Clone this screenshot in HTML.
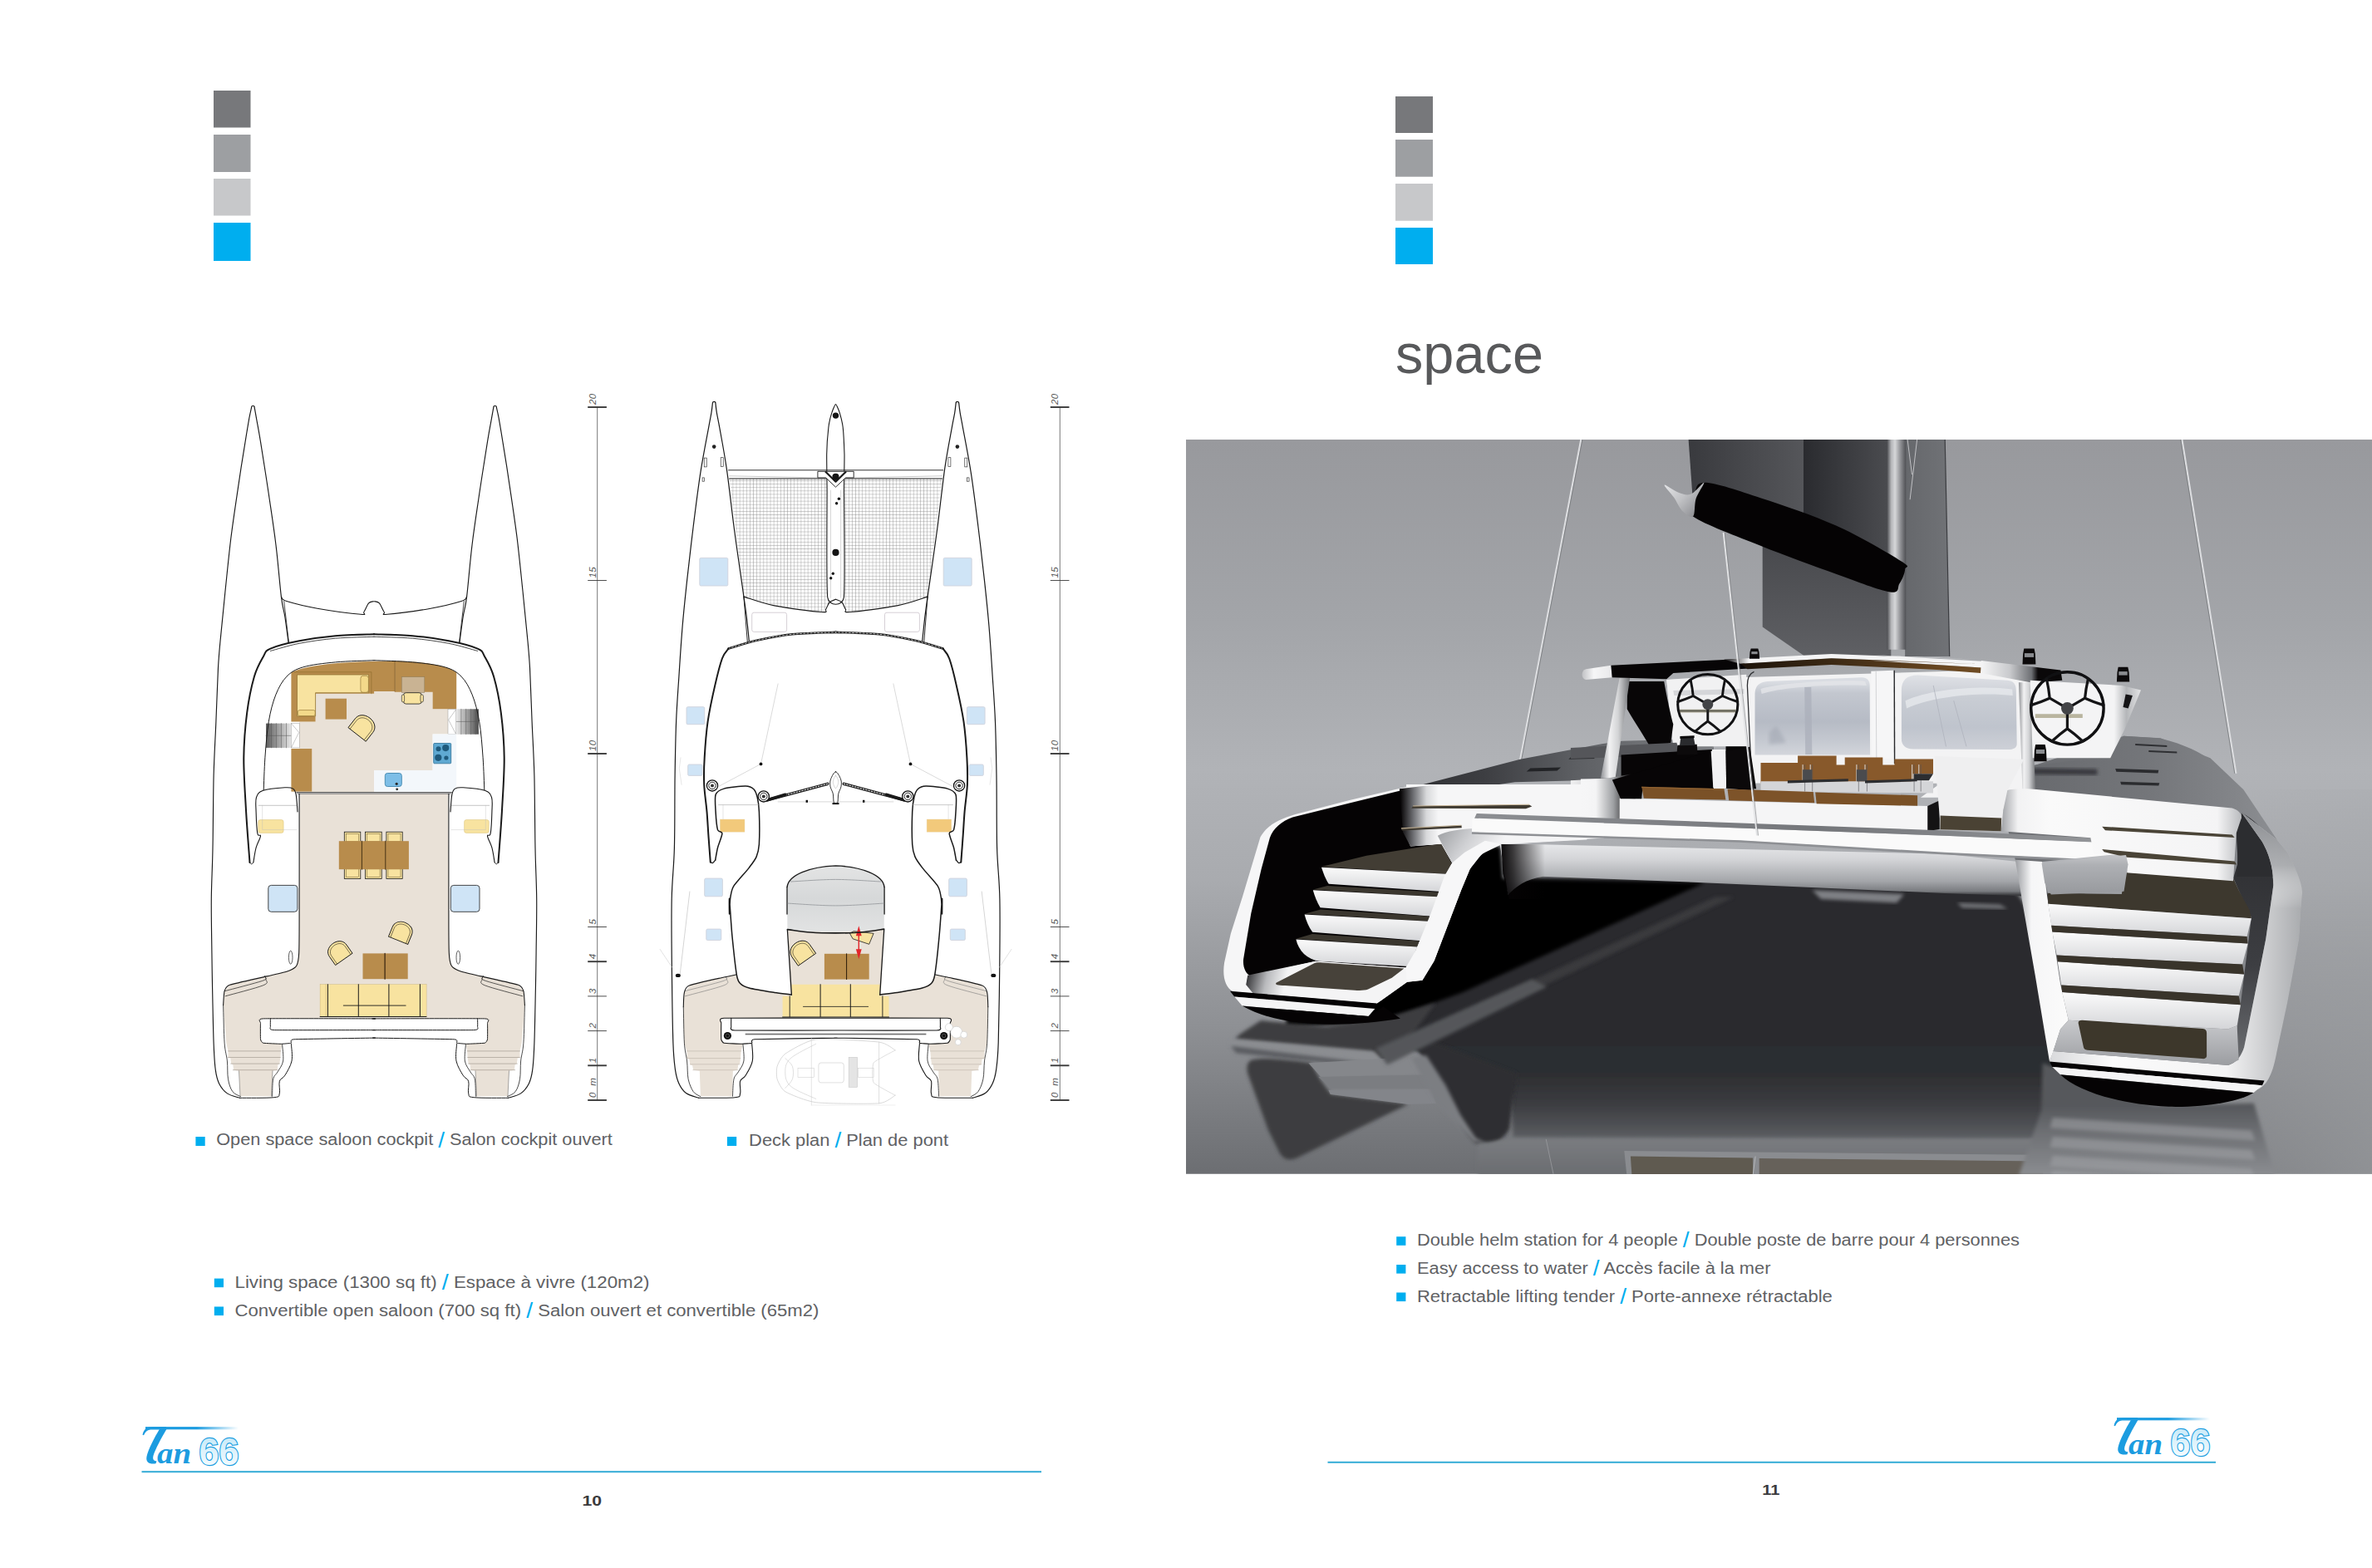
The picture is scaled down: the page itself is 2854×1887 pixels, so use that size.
<!DOCTYPE html>
<html lang="en"><head><meta charset="utf-8"><title>Tan 66 - space</title>
<style>
html,body{margin:0;padding:0;background:#fff;}
body{width:2854px;height:1887px;overflow:hidden;}
svg{display:block;}
text{font-family:"Liberation Sans",sans-serif;}
.t{font-size:19.6px;fill:#606164;}
.c{fill:#00aeef;}
.sl{font-size:25px;}
.rl{font-size:11.5px;font-style:italic;fill:#555;letter-spacing:0.3px;word-spacing:4px;}
</style></head><body>
<svg width="2854" height="1887" viewBox="0 0 2854 1887">
<defs>
<linearGradient id="g66" x1="0" y1="0" x2="0" y2="1"><stop offset="0" stop-color="#bfe6f7"/><stop offset="1" stop-color="#ffffff"/></linearGradient>
<linearGradient id="gTbar" x1="0" y1="0" x2="1" y2="0"><stop offset="0" stop-color="#1c9ce0"/><stop offset="0.55" stop-color="#1c9ce0"/><stop offset="1" stop-color="#1c9ce0" stop-opacity="0"/></linearGradient>
<g id="logo">
  <rect x="5" y="0.3" width="112" height="3.2" fill="url(#gTbar)"/>
  <path d="M1.5,10 C3,3 7,0.3 14,0.3 L30,0.3 L30,3.5 L13,3.5 C8,3.5 5,6 3,10.5 Z" fill="#1c9ce0"/>
  <path d="M22,3 L30.5,3 C24,14 17,27 14.5,35 C13.5,39 14.5,41.5 18.5,41.5 L17.5,44.5 C10,45.5 5,43.5 6.5,36 C8.5,27 16,13 22,3 Z" fill="#1c9ce0"/>
  <text x="19" y="44.6" style="font-family:'Liberation Serif',serif;font-style:italic;font-weight:bold" font-size="35" fill="#1c9ce0" textLength="41" lengthAdjust="spacingAndGlyphs">an</text>
  <text x="69.5" y="46.4" font-weight="bold" font-size="45.5" fill="url(#g66)" stroke="#1c9ce0" stroke-width="2.3" textLength="48" lengthAdjust="spacingAndGlyphs" paint-order="stroke">66</text>
</g>
<clipPath id="rclip"><rect x="1427" y="529" width="1427" height="884"/></clipPath>
<filter id="b2" x="-10%" y="-10%" width="120%" height="120%"><feGaussianBlur stdDeviation="2"/></filter>
<filter id="b4" x="-10%" y="-10%" width="120%" height="120%"><feGaussianBlur stdDeviation="4"/></filter>
<filter id="b8" x="-20%" y="-20%" width="140%" height="140%"><feGaussianBlur stdDeviation="8"/></filter>
<linearGradient id="bg" gradientUnits="userSpaceOnUse" x1="1427.0" y1="529.0" x2="1427.0" y2="1412.8"><stop offset="0" stop-color="#98999d"/><stop offset="0.25" stop-color="#a3a5a9"/><stop offset="0.45" stop-color="#b1b3b7"/><stop offset="0.6" stop-color="#a9abaf"/><stop offset="0.8" stop-color="#8e9094"/><stop offset="1" stop-color="#6c6e72"/></linearGradient>
<radialGradient id="bgr" gradientUnits="userSpaceOnUse" cx="2961.1" cy="1431.4" r="560"><stop offset="0" stop-color="#a6a8ab" stop-opacity="0.75"/><stop offset="0.55" stop-color="#a0a2a5" stop-opacity="0.4"/><stop offset="1" stop-color="#9a9c9f" stop-opacity="0"/></radialGradient>
<linearGradient id="sailA" gradientUnits="userSpaceOnUse" x1="2031.6" y1="529.0" x2="2170.0" y2="529.0"><stop offset="0" stop-color="#393a3e"/><stop offset="1" stop-color="#55565a"/></linearGradient>
<linearGradient id="sailB" gradientUnits="userSpaceOnUse" x1="2170.0" y1="529.0" x2="2270.5" y2="529.0"><stop offset="0" stop-color="#2a2b2f"/><stop offset="1" stop-color="#4a4b4f"/></linearGradient>
<linearGradient id="sailL" gradientUnits="userSpaceOnUse" x1="1427.0" y1="649.3" x2="1427.0" y2="790.7"><stop offset="0" stop-color="#47484c"/><stop offset="1" stop-color="#5f6064"/></linearGradient>
<linearGradient id="sailC" gradientUnits="userSpaceOnUse" x1="2293.3" y1="529.0" x2="2345.7" y2="529.0"><stop offset="0" stop-color="#66686c"/><stop offset="1" stop-color="#707276"/></linearGradient>
<linearGradient id="mast" gradientUnits="userSpaceOnUse" x1="2270.5" y1="529.0" x2="2293.3" y2="529.0"><stop offset="0" stop-color="#4c4d51"/><stop offset="0.22" stop-color="#b4b5b8"/><stop offset="0.42" stop-color="#d6d7d9"/><stop offset="0.72" stop-color="#8d8e92"/><stop offset="1" stop-color="#4f5054"/></linearGradient>
<linearGradient id="cap" gradientUnits="userSpaceOnUse" x1="2002.7" y1="583.1" x2="2040.6" y2="619.2"><stop offset="0" stop-color="#e4e5e7"/><stop offset="0.5" stop-color="#c2c3c6"/><stop offset="1" stop-color="#8f9094"/></linearGradient>
<linearGradient id="refl" gradientUnits="userSpaceOnUse" x1="1760.0" y1="1054.6" x2="1760.0" y2="1371.8"><stop offset="0" stop-color="#2a2b2e"/><stop offset="0.74" stop-color="#2c2d30"/><stop offset="0.86" stop-color="#3b3c40"/><stop offset="0.95" stop-color="#505256"/><stop offset="1" stop-color="#5f6165"/></linearGradient>
<linearGradient id="reflband" gradientUnits="userSpaceOnUse" x1="1760.0" y1="1368.8" x2="1760.0" y2="1413.1"><stop offset="0" stop-color="#7b7d81"/><stop offset="1" stop-color="#6b6d71"/></linearGradient>
<linearGradient id="ldeck" gradientUnits="userSpaceOnUse" x1="1677.9" y1="880.0" x2="1903.0" y2="880.0"><stop offset="0" stop-color="#2f3033"/><stop offset="0.35" stop-color="#4b4c50"/><stop offset="0.7" stop-color="#66686c"/><stop offset="1" stop-color="#7c7e82"/></linearGradient>
<linearGradient id="lwhite" gradientUnits="userSpaceOnUse" x1="1684.9" y1="940.0" x2="1729.8" y2="940.0"><stop offset="0" stop-color="#050304"/><stop offset="0.35" stop-color="#6e6f73"/><stop offset="0.7" stop-color="#d8d9db"/><stop offset="1" stop-color="#f4f4f5"/></linearGradient>
<linearGradient id="lfloor" gradientUnits="userSpaceOnUse" x1="1501.2" y1="1174.7" x2="1546.1" y2="1184.9"><stop offset="0" stop-color="#3a3a3d"/><stop offset="0.5" stop-color="#b9babd"/><stop offset="1" stop-color="#f4f4f5"/></linearGradient>
<linearGradient id="riser" gradientUnits="objectBoundingBox" x1="0.0" y1="0.0" x2="0.0" y2="1.0"><stop offset="0" stop-color="#fbfbfb"/><stop offset="1" stop-color="#d4d5d8"/></linearGradient>
<linearGradient id="lfair" gradientUnits="userSpaceOnUse" x1="1729.8" y1="1001.2" x2="1786.9" y2="1042.0"><stop offset="0" stop-color="#9fa1a4"/><stop offset="0.5" stop-color="#cfd0d3"/><stop offset="1" stop-color="#f4f4f5"/></linearGradient>
<linearGradient id="fillet" gradientUnits="userSpaceOnUse" x1="1740.0" y1="1011.3" x2="1740.0" y2="1077.1"><stop offset="0" stop-color="#ebecee"/><stop offset="0.35" stop-color="#d3d4d7"/><stop offset="0.75" stop-color="#a3a5a9"/><stop offset="0.93" stop-color="#7a7c80"/><stop offset="1" stop-color="#3a3b3e"/></linearGradient>
<linearGradient id="filletL" gradientUnits="userSpaceOnUse" x1="1804.5" y1="900.0" x2="1858.9" y2="900.0"><stop offset="0" stop-color="#050304" stop-opacity="1"/><stop offset="0.3" stop-color="#050304" stop-opacity="0.75"/><stop offset="1" stop-color="#050304" stop-opacity="0"/></linearGradient>
<linearGradient id="shoulderL" gradientUnits="userSpaceOnUse" x1="1901.9" y1="900.0" x2="1962.6" y2="900.0"><stop offset="0" stop-color="#f6f6f7"/><stop offset="0.3" stop-color="#f4f4f5"/><stop offset="0.65" stop-color="#9d9fa2"/><stop offset="1" stop-color="#0a0809"/></linearGradient>
<linearGradient id="beamtop" gradientUnits="objectBoundingBox" x1="0.0" y1="0.0" x2="1.0" y2="0.0"><stop offset="0" stop-color="#8c8e92"/><stop offset="0.5" stop-color="#74767a"/><stop offset="1" stop-color="#9a9c9f"/></linearGradient>
<linearGradient id="beamend" gradientUnits="userSpaceOnUse" x1="2569.7" y1="900.0" x2="2605.1" y2="900.0"><stop offset="0" stop-color="#fafafa" stop-opacity="0"/><stop offset="1" stop-color="#7d7f83" stop-opacity="1"/></linearGradient>
<linearGradient id="rtop" gradientUnits="userSpaceOnUse" x1="2500.0" y1="0.0" x2="2790.0" y2="0.0"><stop offset="0" stop-color="#6e7074"/><stop offset="0.6" stop-color="#808286"/><stop offset="1" stop-color="#96989c"/></linearGradient>
<linearGradient id="rdeck" gradientUnits="objectBoundingBox" x1="0.0" y1="0.0" x2="1.0" y2="0.0"><stop offset="0" stop-color="#66686c"/><stop offset="0.6" stop-color="#74767a"/><stop offset="1" stop-color="#84868a"/></linearGradient>
<linearGradient id="rinner" gradientUnits="objectBoundingBox" x1="0.0" y1="0.0" x2="0.0" y2="1.0"><stop offset="0" stop-color="#2a2b2e"/><stop offset="0.6" stop-color="#3d3e42"/><stop offset="1" stop-color="#6e7074"/></linearGradient>
<linearGradient id="rframeR" gradientUnits="objectBoundingBox" x1="0.0" y1="0.0" x2="1.0" y2="0.0"><stop offset="0" stop-color="#d9dadc"/><stop offset="0.25" stop-color="#fbfbfb"/><stop offset="0.7" stop-color="#f3f3f4"/><stop offset="1" stop-color="#a9abae"/></linearGradient>
<linearGradient id="rframeTop" gradientUnits="userSpaceOnUse" x1="2414.0" y1="978.3" x2="2414.0" y2="1093.2"><stop offset="0" stop-color="#8a8c90" stop-opacity="1"/><stop offset="0.55" stop-color="#a9abae" stop-opacity="0.85"/><stop offset="1" stop-color="#ffffff" stop-opacity="0"/></linearGradient>
<linearGradient id="rframeL" gradientUnits="objectBoundingBox" x1="0.0" y1="0.0" x2="1.0" y2="0.0"><stop offset="0" stop-color="#9c9ea2"/><stop offset="0.3" stop-color="#f6f6f7"/><stop offset="1" stop-color="#fbfbfb"/></linearGradient>
<linearGradient id="rbox" gradientUnits="objectBoundingBox" x1="0.0" y1="0.0" x2="0.0" y2="1.0"><stop offset="0" stop-color="#c6c7ca"/><stop offset="0.2" stop-color="#b0b2b6"/><stop offset="1" stop-color="#9c9ea2"/></linearGradient>
<linearGradient id="rfloor" gradientUnits="objectBoundingBox" x1="0.0" y1="0.0" x2="0.0" y2="1.0"><stop offset="0" stop-color="#c9cacd"/><stop offset="1" stop-color="#9b9da1"/></linearGradient>
<linearGradient id="rshoulder" gradientUnits="userSpaceOnUse" x1="2407.7" y1="900.0" x2="2697.0" y2="900.0"><stop offset="0" stop-color="#9fa1a5"/><stop offset="0.07" stop-color="#f2f2f3"/><stop offset="0.2" stop-color="#fafafa"/><stop offset="0.9" stop-color="#f4f4f5"/><stop offset="1" stop-color="#b9bbbe"/></linearGradient>
<linearGradient id="rbox2" gradientUnits="objectBoundingBox" x1="0.0" y1="0.0" x2="0.0" y2="1.0"><stop offset="0" stop-color="#c4c5c8"/><stop offset="0.25" stop-color="#aeb0b4"/><stop offset="1" stop-color="#97999d"/></linearGradient>
<linearGradient id="ldeck2" gradientUnits="userSpaceOnUse" x1="1675.8" y1="500.0" x2="2043.6" y2="500.0"><stop offset="0" stop-color="#2b2c2f"/><stop offset="0.3" stop-color="#3d3e42"/><stop offset="0.6" stop-color="#5d5f63"/><stop offset="1" stop-color="#7d7f83"/></linearGradient>
<linearGradient id="glassL" gradientUnits="userSpaceOnUse" x1="1900.0" y1="820.9" x2="1900.0" y2="908.0"><stop offset="0" stop-color="#d9dce2"/><stop offset="0.15" stop-color="#c3c7cf"/><stop offset="0.55" stop-color="#b6bbc5"/><stop offset="0.8" stop-color="#c4c8d0"/><stop offset="1" stop-color="#d2d5db"/></linearGradient>
<linearGradient id="glassR" gradientUnits="userSpaceOnUse" x1="2127.0" y1="812.6" x2="2127.0" y2="901.5"><stop offset="0" stop-color="#dfe1e6"/><stop offset="0.3" stop-color="#c9cdd4"/><stop offset="0.7" stop-color="#bfc4cd"/><stop offset="1" stop-color="#cdd0d7"/></linearGradient>
<linearGradient id="cside" gradientUnits="objectBoundingBox" x1="0.0" y1="0.0" x2="1.0" y2="0.0"><stop offset="0" stop-color="#f0f0f1"/><stop offset="0.55" stop-color="#b9babd"/><stop offset="1" stop-color="#070506"/></linearGradient>
<linearGradient id="roofL" gradientUnits="userSpaceOnUse" x1="1903.0" y1="740.0" x2="1939.5" y2="740.0"><stop offset="0" stop-color="#bfc0c3"/><stop offset="0.4" stop-color="#f6f6f7"/><stop offset="1" stop-color="#e9e9eb"/></linearGradient>
<linearGradient id="roofBlk" gradientUnits="userSpaceOnUse" x1="1938.4" y1="740.0" x2="2104.4" y2="740.0"><stop offset="0" stop-color="#070506"/><stop offset="0.82" stop-color="#070506"/><stop offset="1" stop-color="#070506" stop-opacity="0"/></linearGradient>
<linearGradient id="roofTop" gradientUnits="userSpaceOnUse" x1="2074.0" y1="740.0" x2="2104.4" y2="740.0"><stop offset="0" stop-color="#070506"/><stop offset="1" stop-color="#f4f4f5"/></linearGradient>
<linearGradient id="roofBr" gradientUnits="userSpaceOnUse" x1="2094.3" y1="740.0" x2="2507.1" y2="740.0"><stop offset="0" stop-color="#1c130a"/><stop offset="0.25" stop-color="#3a2814"/><stop offset="0.6" stop-color="#6a4822"/><stop offset="1" stop-color="#7d5629"/></linearGradient>
<linearGradient id="roofR" gradientUnits="userSpaceOnUse" x1="2384.4" y1="500.0" x2="2481.0" y2="500.0"><stop offset="0" stop-color="#f4f4f5"/><stop offset="0.35" stop-color="#c9cacd"/><stop offset="0.62" stop-color="#6e7074"/><stop offset="0.7" stop-color="#0a0809"/><stop offset="1" stop-color="#0a0809"/></linearGradient>
<linearGradient id="post" gradientUnits="objectBoundingBox" x1="0.0" y1="0.0" x2="1.0" y2="0.0"><stop offset="0" stop-color="#8f9195"/><stop offset="0.3" stop-color="#f2f2f3"/><stop offset="0.6" stop-color="#d2d3d5"/><stop offset="1" stop-color="#6f7174"/></linearGradient>
<linearGradient id="rcons" gradientUnits="userSpaceOnUse" x1="2442.7" y1="500.0" x2="2577.5" y2="500.0"><stop offset="0" stop-color="#f4f4f5"/><stop offset="0.75" stop-color="#f4f4f5"/><stop offset="0.86" stop-color="#b4b6b9"/><stop offset="1" stop-color="#e9e9ea"/></linearGradient>
<linearGradient id="reflRg" gradientUnits="userSpaceOnUse" x1="2140.0" y1="1330.5" x2="2140.0" y2="1413.0"><stop offset="0" stop-color="#56585c"/><stop offset="0.4" stop-color="#6e7074"/><stop offset="1" stop-color="#8a8c90"/></linearGradient>

</defs>
<rect x="0" y="0" width="2854" height="1887" fill="#ffffff"/>
<!-- colour squares left -->
<rect x="257" y="109" width="44.5" height="44.5" fill="#77787b"/>
<rect x="257" y="162" width="44.5" height="45" fill="#9d9fa2"/>
<rect x="257" y="215" width="44.5" height="44.5" fill="#c7c8ca"/>
<rect x="257" y="268" width="44.5" height="46" fill="#00aeef"/>
<!-- colour squares right -->
<rect x="1679" y="116" width="45" height="44" fill="#77787b"/>
<rect x="1679" y="168" width="45" height="44.7" fill="#9d9fa2"/>
<rect x="1679" y="221" width="45" height="44.7" fill="#c7c8ca"/>
<rect x="1679" y="274" width="45" height="44" fill="#00aeef"/>
<!-- footer lines -->
<rect x="170.5" y="1770.2" width="1082.5" height="2" fill="#35acd6"/>
<rect x="1597.5" y="1758.8" width="1068.5" height="2" fill="#35acd6"/>
<use href="#logo" x="170" y="1716.8"/>
<use href="#logo" x="2542" y="1705.8"/>
<g id="render" clip-path="url(#rclip)">
<polygon points="1427.0,529.0 2854.0,529.0 2854.0,1412.8 1427.0,1412.8" fill="url(#bg)" />
<polygon points="2209.1,950.1 2854.0,950.1 2854.0,1412.8 2209.1,1412.8" fill="url(#bgr)" />
<line x1="1902.3" y1="529.0" x2="1828.9" y2="915.2" stroke="#dcdde0" stroke-width="2.2" />
<line x1="1902.3" y1="529.0" x2="1828.9" y2="915.2" stroke="#6f7174" stroke-width="0.7" transform="translate(1.6,0)"/>
<line x1="2625.4" y1="529.0" x2="2690.4" y2="930.9" stroke="#dcdde0" stroke-width="2.2" />
<line x1="2625.4" y1="529.0" x2="2690.4" y2="930.9" stroke="#6f7174" stroke-width="0.7" transform="translate(-1.6,0)"/>
<polygon points="2031.6,529.0 2170.6,529.0 2170.6,619.2 2036.4,596.4" fill="url(#sailA)" />
<polygon points="2170.0,529.0 2271.1,529.0 2271.1,679.4 2170.0,619.2" fill="url(#sailB)" />
<polygon points="2120.7,643.3 2275.3,709.5 2275.3,791.3 2171.2,789.5 2120.7,754.6" fill="url(#sailL)" />
<polygon points="2292.1,529.0 2340.2,529.0 2345.7,790.1 2292.1,790.1" fill="url(#sailC)" />
<line x1="2340.2" y1="529.0" x2="2345.7" y2="790.1" stroke="#3c3d41" stroke-width="1.2" />
<polygon points="2270.5,529.0 2293.3,529.0 2293.3,781.7 2270.5,781.7" fill="url(#mast)" />
<line x1="2295.1" y1="529.0" x2="2300.5" y2="571.1" stroke="#c9cacd" stroke-width="0.9" />
<line x1="2306.6" y1="529.0" x2="2298.1" y2="601.2" stroke="#c9cacd" stroke-width="0.9" />
<path d="M2050.3,580.7 C2063.5,580.4 2092.4,590.8 2118.9,599.4 C2145.3,608.0 2181.0,619.8 2209.1,632.5 C2237.2,645.1 2273.5,666.4 2287.3,675.2 C2301.1,684.0 2292.4,680.9 2292.1,685.4 C2291.8,689.9 2288.5,697.8 2285.5,702.3 C2282.5,706.8 2286.8,714.4 2274.1,712.5 C2261.3,710.6 2235.0,700.1 2209.1,690.8 C2183.2,681.6 2147.5,668.7 2118.9,657.1 C2090.2,645.6 2050.3,631.0 2037.0,621.6 C2023.8,612.3 2037.2,608.0 2039.4,601.2 C2041.6,594.4 2037.0,581.0 2050.3,580.7 Z" fill="#050304" />
<path d="M2002.7,583.7 C2003.6,582.7 2014.3,591.0 2019.6,592.8 C2024.9,594.6 2029.5,596.6 2034.6,594.6 C2039.7,592.6 2049.3,579.8 2050.3,580.7 C2051.3,581.6 2042.9,593.2 2040.6,600.0 C2038.4,606.8 2039.8,619.2 2037.0,621.6 C2034.2,624.1 2027.6,618.2 2023.8,614.4 C2020.0,610.6 2017.7,603.9 2014.2,598.8 C2010.7,593.7 2001.8,584.7 2002.7,583.7 Z" fill="url(#cap)" />
<polygon points="1838.4,922.9 1876.5,922.9 1873.5,926.6 1835.4,926.6" fill="#26272a" />
<polygon points="1675.8,953.6 1829.1,913.7 1927.1,895.3 1951.6,891.7 2025.2,889.8 2062.0,898.4 2062.0,935.2 1939.4,938.2 1822.9,941.3 1737.1,953.6" fill="url(#ldeck2)" />
<polygon points="1841.3,924.5 1878.1,923.5 1873.5,927.5 1836.7,928.4" fill="#222326" />
<polygon points="1890.3,910.7 1921.0,910.1 1917.9,913.1 1887.3,913.7" fill="#2a2b2e" />
<polygon points="2555.2,885.8 2599.3,888.2 2659.4,912.2 2699.4,950.2 2739.5,1010.3 2759.5,1055.0 2765.3,1056.4 2770.1,1073.7 2766.4,1130.1 2752.3,1206.0 2739.3,1266.7 2730.6,1299.3 2713.3,1312.3 2479.1,1292.8 2466.0,1277.6 2448.7,1173.5 2424.8,1034.7 2410.3,975.1 2420.3,930.1" fill="url(#rtop)" />
<path d="M 2415.0,952.2 L 2425.1,923.2 L 2535.2,911.2 L 2555.2,885.8 L 2599.3,888.6 C 2629.3,896.2 2649.3,906.2 2659.4,915.2 C 2675.4,928.2 2689.4,946.2 2697.4,978.3 L 2669.4,972.3 L 2579.3,962.3 Z" fill="url(#rdeck)" />
<polygon points="2569.2,895.0 2607.3,897.0 2607.3,899.0 2569.2,897.0" fill="#2e2f32" />
<polygon points="2585.3,903.0 2619.3,904.6 2619.3,906.6 2585.3,905.0" fill="#2e2f32" />
<polygon points="2545.2,925.0 2597.3,926.8 2596.5,930.6 2546.4,928.8" fill="#2b2c2f" />
<polygon points="2551.2,940.8 2598.3,942.2 2597.3,945.6 2552.2,944.2" fill="#2b2c2f" />
<polygon points="2424.1,924.6 2523.2,925.8 2523.6,932.6 2422.1,931.4" fill="#35363a" filter="url(#b2)"/>
<polygon points="2005.2,817.9 2380.0,806.8 2442.7,818.7 2445.7,912.2 2445.7,959.7 2310.9,959.7 2335.1,942.4 2102.4,942.4 2100.3,897.8 2013.3,897.8" fill="#f3f3f4" />
<path d="M 2111.5,835.1 C 2111.5,825.0 2117.5,820.5 2126.6,819.9 L 2240.0,815.3 C 2246.4,815.3 2249.7,818.9 2249.7,825.0 L 2250.1,908.4 L 2111.5,908.4 Z" fill="url(#glassL)" />
<polygon points="2171.2,827.0 2179.3,827.0 2180.3,908.0 2172.2,908.0" fill="#a9aeb9" opacity="0.7"/>
<path d="M 2118.5,829.0 C 2142.8,820.9 2223.8,817.9 2244.0,819.9 L 2246.0,825.0 C 2203.5,823.0 2142.8,827.0 2119.6,835.1 Z" fill="#e3e5e9" opacity="0.8"/>
<polygon points="2128.7,881.7 2136.8,873.6 2142.8,881.7 2148.9,893.8 2128.7,895.8" fill="#a2a7b2" opacity="0.6" filter="url(#b2)"/>
<polygon points="2251.3,807.8 2278.8,806.8 2278.8,913.0 2252.1,913.0" fill="#f6f6f7" />
<line x1="2279.2" y1="806.8" x2="2279.6" y2="919.1" stroke="#26272a" stroke-width="1.4" />
<line x1="2257.2" y1="807.8" x2="2257.8" y2="912.0" stroke="#c9cacd" stroke-width="0.8" />
<path d="M 2287.9,831.0 C 2287.9,818.7 2294.0,812.6 2307.8,812.6 L 2415.1,818.7 C 2422.7,819.3 2425.8,823.3 2425.8,831.0 L 2426.7,895.3 C 2426.7,899.9 2422.7,902.1 2416.6,902.1 L 2301.7,901.5 C 2292.5,900.9 2287.9,896.9 2287.9,889.2 Z" fill="url(#glassR)" />
<path d="M 2292.5,843.2 C 2326.2,827.9 2387.5,824.9 2421.2,829.5 L 2421.8,837.1 C 2387.5,832.5 2326.2,837.1 2294.0,852.4 Z" fill="#e6e8ec" opacity="0.8"/>
<line x1="2326.2" y1="824.9" x2="2341.5" y2="898.4" stroke="#aeb3bc" stroke-width="0.8" />
<line x1="2350.7" y1="843.2" x2="2366.0" y2="898.4" stroke="#aeb3bc" stroke-width="0.8" />
<path d="M 2110.5,808.4 C 2104.4,810.8 2102.4,816.9 2102.4,825.0 L 2110.5,1003.1" fill="none" stroke="#2d2e31" stroke-width="1.3"/>
<polygon points="2005.2,817.9 2101.3,811.8 2099.3,898.2 2013.3,898.2 2010.3,869.5" fill="#f1f1f2" />
<polygon points="2013.3,831.1 2098.3,829.0 2098.3,835.1 2014.3,837.1" fill="#d5d6d9" />
<path d="M 1957.7,819.9 L 2002.2,819.9 C 2005.2,837.1 2010.3,861.4 2013.3,871.5 L 2010.3,893.8 L 1987.0,901.9 C 1980.9,889.7 1966.8,869.5 1957.7,853.3 Z" fill="#080607" />
<polygon points="1889.9,899.9 2017.4,893.8 2021.4,909.0 1889.9,913.0" fill="#55565a" />
<polygon points="1950.6,908.4 2059.9,901.9 2061.9,950.5 1976.9,950.5 1950.6,942.4" fill="#070506" />
<polygon points="1889.9,939.3 1926.3,937.3 1964.8,937.3 1974.9,950.5 1948.6,962.6 1889.9,960.6" fill="url(#cside)" />
<polygon points="2059.9,901.9 2076.5,901.9 2076.5,948.8 2061.9,948.8" fill="#f4f4f5" />
<polygon points="2076.5,898.2 2102.4,898.2 2110.5,951.5 2076.5,948.8" fill="#080607" />
<polygon points="2018.4,896.8 2041.7,895.8 2042.7,908.0 2017.4,908.4" fill="#0c0a0b" />
<polygon points="2022.4,886.7 2037.6,886.1 2039.6,896.8 2021.0,897.2" fill="#2a2b2e" />
<polygon points="2021.4,886.1 2038.6,885.3 2038.6,888.1 2021.4,888.9" fill="#0c0a0b" />
<polygon points="2118.5,918.1 2163.1,918.1 2163.1,909.4 2209.6,909.4 2209.6,920.5 2219.7,920.5 2219.7,911.4 2265.3,911.4 2265.3,920.5 2279.4,920.5 2279.4,913.4 2326.0,913.4 2326.0,931.2 2301.7,931.2 2301.7,942.4 2118.5,942.4" fill="#88592b" />
<polygon points="2118.5,940.3 2326.0,940.3 2326.0,954.5 2118.5,952.5" fill="#d4d5d8" />
<line x1="2169.1" y1="920.1" x2="2169.1" y2="952.5" stroke="#d9d9db" stroke-width="1.0" />
<line x1="2171.6" y1="920.1" x2="2171.6" y2="952.5" stroke="#55565a" stroke-width="0.6" />
<line x1="2178.2" y1="920.1" x2="2178.2" y2="952.5" stroke="#d9d9db" stroke-width="1.0" />
<line x1="2180.7" y1="920.1" x2="2180.7" y2="952.5" stroke="#55565a" stroke-width="0.6" />
<line x1="2233.9" y1="920.1" x2="2233.9" y2="952.5" stroke="#d9d9db" stroke-width="1.0" />
<line x1="2236.3" y1="920.1" x2="2236.3" y2="952.5" stroke="#55565a" stroke-width="0.6" />
<line x1="2244.0" y1="920.1" x2="2244.0" y2="952.5" stroke="#d9d9db" stroke-width="1.0" />
<line x1="2246.4" y1="920.1" x2="2246.4" y2="952.5" stroke="#55565a" stroke-width="0.6" />
<line x1="2300.7" y1="920.1" x2="2300.7" y2="952.5" stroke="#d9d9db" stroke-width="1.0" />
<line x1="2303.1" y1="920.1" x2="2303.1" y2="952.5" stroke="#55565a" stroke-width="0.6" />
<line x1="2308.8" y1="920.1" x2="2308.8" y2="952.5" stroke="#d9d9db" stroke-width="1.0" />
<line x1="2311.2" y1="920.1" x2="2311.2" y2="952.5" stroke="#55565a" stroke-width="0.6" />
<polygon points="2169.1,926.2 2180.3,926.2 2180.3,940.3 2169.1,940.3" fill="#4a4b4e" />
<polygon points="2233.9,926.2 2246.0,926.2 2246.0,940.3 2233.9,940.3" fill="#4a4b4e" />
<polygon points="2302.7,931.2 2326.0,931.2 2320.9,939.3 2302.7,939.3" fill="#2c2d30" />
<polygon points="2150.9,939.3 2223.8,937.3 2223.8,940.3 2150.9,942.4" fill="#2c2d30" />
<polygon points="2244.0,939.3 2306.7,937.3 2306.7,940.3 2244.0,942.4" fill="#2c2d30" />
<polygon points="2326.0,914.0 2380.0,916.1 2380.0,972.7 2335.1,972.7 2335.1,942.4 2326.0,942.4" fill="#f1f1f2" />
<path d="M 1908.1,805.2 L 1938.4,800.7 L 1939.7,815.3 L 1908.1,817.9 C 1902.0,816.9 1902.0,806.8 1908.1,805.2 Z" fill="url(#roofL)" />
<polygon points="1938.4,800.7 2094.3,793.0 2104.4,804.4 2013.3,810.0 2005.2,817.3 1939.7,815.3" fill="#070506" />
<polygon points="2074.0,793.8 2203.5,786.9 2380.0,793.8 2249.6,788.1 2384.4,795.7 2384.4,803.4 2249.6,794.8 2380.0,799.1 2203.5,792.2 2094.3,798.7" fill="url(#roofTop)" />
<polygon points="2094.3,798.7 2203.5,792.2 2380.0,799.1 2249.6,794.8 2383.8,803.4 2382.9,810.1 2249.6,799.7 2380.0,808.4 2203.5,799.9 2102.4,805.2" fill="url(#roofBr)" />
<polygon points="2383.8,795.1 2479.4,806.5 2481.3,818.7 2445.7,821.8 2383.2,810.1" fill="url(#roofR)" />
<polygon points="1948.6,815.9 1961.1,815.9 1943.5,936.7 1925.9,936.7" fill="url(#post)" />
<polygon points="2428.9,821.2 2442.7,821.2 2449.4,952.0 2433.5,952.0" fill="url(#post)" />
<polygon points="2019.4,853.7 2088.6,853.7 2088.6,857.4 2019.4,857.4" fill="#a9a48f" />
<circle cx="2054.8" cy="847.7" r="36.1" fill="none" stroke="#101012" stroke-width="3.0"/>
<path d="M2054.8,850.9 L2054.8,868.0 M2054.8,868.0 Q2062.1,873.1 2070.1,880.4 M2054.8,868.0 Q2047.5,873.1 2039.5,880.4" stroke="#141416" stroke-width="2.9" fill="none" stroke-linecap="round"/>
<path d="M2054.8,868.0 L2070.1,880.4 L2039.5,880.4 Z" fill="#1a1a1c" opacity="0.0"/>
<path d="M2057.6,846.0 L2072.4,837.5 M2072.4,837.5 Q2073.2,828.6 2075.5,818.1 M2072.4,837.5 Q2080.5,841.3 2090.8,844.5" stroke="#141416" stroke-width="2.9" fill="none" stroke-linecap="round"/>
<path d="M2072.4,837.5 L2075.5,818.1 L2090.8,844.5 Z" fill="#1a1a1c" opacity="0.0"/>
<path d="M2052.0,846.0 L2037.2,837.5 M2037.2,837.5 Q2029.1,841.3 2018.8,844.5 M2037.2,837.5 Q2036.4,828.6 2034.1,818.1" stroke="#141416" stroke-width="2.9" fill="none" stroke-linecap="round"/>
<path d="M2037.2,837.5 L2018.8,844.5 L2034.1,818.1 Z" fill="#1a1a1c" opacity="0.0"/>
<circle cx="2054.8" cy="847.7" r="6.5" fill="#434447"/>
<polygon points="2019.4,854.5 2088.6,854.5 2088.6,856.6 2019.4,856.6" fill="#2a2b2e" opacity="0.55"/>
<polygon points="2442.7,818.7 2553.0,824.9 2576.0,830.4 2556.1,878.5 2539.2,912.2 2445.7,912.2" fill="url(#rcons)" />
<polygon points="2557.6,835.6 2565.9,837.1 2560.7,852.4 2554.5,850.9" fill="#151416" />
<polygon points="2448.8,859.2 2505.8,859.2 2505.8,864.1 2448.8,864.1" fill="#b9b59f" />
<circle cx="2487.4" cy="852.4" r="43.7" fill="none" stroke="#101012" stroke-width="3.4"/>
<path d="M2487.4,856.1 L2487.4,876.9 M2487.4,876.9 Q2496.3,883.2 2505.9,892.0 M2487.4,876.9 Q2478.5,883.2 2468.9,892.0" stroke="#141416" stroke-width="3.2" fill="none" stroke-linecap="round"/>
<path d="M2487.4,876.9 L2505.9,892.0 L2468.9,892.0 Z" fill="#1a1a1c" opacity="0.0"/>
<path d="M2490.6,850.6 L2508.6,840.2 M2508.6,840.2 Q2509.6,829.4 2512.5,816.7 M2508.6,840.2 Q2518.5,844.7 2530.9,848.6" stroke="#141416" stroke-width="3.2" fill="none" stroke-linecap="round"/>
<path d="M2508.6,840.2 L2512.5,816.7 L2530.9,848.6 Z" fill="#1a1a1c" opacity="0.0"/>
<path d="M2484.2,850.6 L2466.2,840.2 M2466.2,840.2 Q2456.3,844.7 2443.9,848.6 M2466.2,840.2 Q2465.2,829.4 2462.4,816.7" stroke="#141416" stroke-width="3.2" fill="none" stroke-linecap="round"/>
<path d="M2466.2,840.2 L2443.9,848.6 L2462.4,816.7 Z" fill="#1a1a1c" opacity="0.0"/>
<circle cx="2487.4" cy="852.4" r="7.4" fill="#434447"/>
<polygon points="2435.3,780.4 2447.6,780.4 2448.8,787.1 2449.4,799.4 2433.5,799.4 2434.1,787.1" fill="#0c0a0b" />
<polygon points="2435.9,786.1 2447.0,786.1 2447.0,790.9 2435.9,790.9" fill="#8a8c90" />
<polygon points="2548.7,802.8 2560.3,802.8 2561.6,809.0 2562.2,820.6 2546.9,820.6 2547.5,809.0" fill="#0c0a0b" />
<polygon points="2549.3,808.1 2559.7,808.1 2559.7,812.6 2549.3,812.6" fill="#8a8c90" />
<polygon points="2449.1,896.0 2460.7,896.0 2462.0,903.0 2462.6,916.2 2447.3,916.2 2447.9,903.0" fill="#0c0a0b" />
<polygon points="2449.7,902.0 2460.1,902.0 2460.1,907.1 2449.7,907.1" fill="#8a8c90" />
<polygon points="2106.7,780.4 2115.3,780.4 2116.5,784.7 2117.1,792.7 2104.9,792.7 2105.5,784.7" fill="#0c0a0b" />
<polygon points="2107.3,784.1 2114.7,784.1 2114.7,787.2 2107.3,787.2" fill="#8a8c90" />
<path d="M 1632.5,1212.5 L 1681.1,1170.0 L 1790.4,1060.7 L 1860.2,1055.2 L 2412.6,1065.3 C 2430.8,1072.9 2439.9,1091.1 2443.0,1115.3 L 2468.8,1273.2 L 2494.6,1303.5 L 2485.5,1333.9 L 2473.3,1370.9 L 1820.7,1368.8 L 1817.7,1315.7 L 1709.9,1267.1 L 1659.8,1242.8 L 1562.7,1194.3 Z" fill="url(#refl)" filter="url(#b2)"/>
<path d="M 1694.7,1242.8 L 1825.3,1291.4 L 1816.2,1358.2 C 1808.6,1373.4 1793.4,1379.4 1776.7,1375.8 C 1766.1,1370.3 1747.9,1333.9 1694.7,1242.8 Z" fill="#2d2e31" filter="url(#b2)"/>
<polygon points="1816.2,1370.9 2473.3,1370.9 2455.1,1414.3 1778.2,1414.3 1778.2,1376.4" fill="url(#reflband)" filter="url(#b2)"/>
<polygon points="1954.3,1384.9 2480.0,1390.1 2480.0,1414.3 1957.3,1414.3" fill="#8a8c90" />
<polygon points="1961.9,1391.6 2109.1,1393.4 2109.1,1414.3 1963.4,1414.3" fill="#5f5a50" />
<polygon points="2116.7,1394.0 2458.2,1397.6 2458.2,1414.3 2116.7,1414.3" fill="#66615a" />
<line x1="1860.2" y1="1370.9" x2="1869.3" y2="1414.3" stroke="#9a9c9f" stroke-width="0.8" />
<line x1="2112.1" y1="1391.6" x2="2109.1" y2="1414.3" stroke="#b4b6b9" stroke-width="1.0" />
<path d="M 1747.9,1018.2 L 1805.5,1018.2 L 1808.6,1057.7 L 2051.4,1062.2 L 1760.0,1194.3 L 1659.8,1230.7 L 1547.5,1236.8 L 1547.5,1091.1 Z" fill="#050304" filter="url(#b2)"/>
<path d="M 1723.6,1234.3 L 2063.5,1079.5 L 2086.3,1079.5 L 1731.2,1245.3 Z" fill="#3c3d40" filter="url(#b2)" opacity="0.85"/>
<polygon points="2180.4,1071.3 2291.2,1075.9 2282.1,1086.5 2191.0,1082.0" fill="#8e9094" filter="url(#b2)" opacity="0.85"/>
<polygon points="2354.9,1086.5 2406.6,1088.6 2415.7,1094.1 2361.0,1092.6" fill="#85878b" filter="url(#b2)" opacity="0.8"/>
<polygon points="1493.1,1243.7 1517.2,1228.1 1595.3,1235.3 1667.5,1225.1 1727.6,1207.1 1691.5,1255.1 1664.5,1277.7 1652.4,1265.7 1485.6,1250.6" fill="#3c3d40" filter="url(#b2)"/>
<polygon points="1482.6,1250.9 1652.4,1266.0 1664.5,1276.8 1658.5,1280.7 1479.6,1258.8" fill="#8b8d91" filter="url(#b2)"/>
<polygon points="1481.1,1258.8 1658.5,1281.0 1655.4,1285.2 1487.1,1267.2" fill="#5a5c60" filter="url(#b2)"/>
<path d="M 1505.8,1275.6 C 1517.2,1271.7 1553.2,1275.6 1577.3,1279.2 L 1589.3,1300.2 L 1601.3,1316.8 L 1694.5,1328.8 L 1559.3,1394.0 C 1550.2,1397.0 1544.2,1394.9 1539.7,1387.4 L 1526.2,1360.4 L 1501.5,1292.7 C 1499.1,1283.7 1500.6,1278.6 1505.8,1275.6 Z" fill="#3d3e41" filter="url(#b2)"/>
<polygon points="1574.3,1279.2 1697.5,1272.0 1712.6,1291.8 1589.3,1296.0" fill="#85878b" />
<polygon points="1586.3,1296.0 1714.1,1293.6 1721.0,1309.9 1601.3,1309.9" fill="#7b7d81" />
<polygon points="1598.3,1311.7 1721.6,1311.1 1728.2,1327.9 1694.5,1329.1 1600.7,1317.1" fill="#83858a" />
<polygon points="1697.5,1272.0 1716.2,1270.2 1739.6,1306.2 1757.6,1342.3 1775.7,1369.4 1789.2,1376.0 1772.7,1373.9 1727.6,1325.8" fill="#7c7e82" filter="url(#b2)"/>
<polygon points="1655.4,1261.8 1843.3,1178.5 1861.4,1187.5 1669.0,1281.6" fill="#54565a" filter="url(#b2)"/>
<polygon points="2457.6,1279.3 2456.1,1336.5 2429.0,1414.8 2737.5,1414.8 2711.9,1327.5 2591.5,1330.5" fill="url(#reflRg)" filter="url(#b2)"/>
<polygon points="2469.6,1345.0 2708.9,1360.6 2713.4,1372.6 2466.6,1357.6" fill="#a0a2a6" opacity="0.55" filter="url(#b2)"/>
<polygon points="2469.6,1368.1 2708.9,1383.8 2713.4,1395.8 2466.6,1380.8" fill="#a0a2a6" opacity="0.55" filter="url(#b2)"/>
<polygon points="2469.6,1390.7 2708.9,1406.4 2713.4,1418.4 2466.6,1403.4" fill="#a0a2a6" opacity="0.55" filter="url(#b2)"/>
<polygon points="2469.6,1408.8 2708.9,1424.4 2713.4,1436.5 2466.6,1421.4" fill="#a0a2a6" opacity="0.55" filter="url(#b2)"/>
<path d="M 1692.0,947.1 L 1623.7,962.9 L 1558.4,980.0 C 1538.0,985.9 1523.7,994.1 1516.5,1007.3 L 1507.3,1038.0 L 1495.1,1078.8 L 1480.8,1123.7 L 1473.1,1158.4 C 1470.6,1174.7 1473.7,1188.0 1483.9,1193.5 L 1656.3,1207.8 L 1662.9,1203.3 L 1693.1,1181.8 L 1711.4,1179.8 L 1725.7,1156.3 L 1742.0,1113.5 L 1758.4,1070.6 L 1768.6,1046.1 C 1774.7,1031.8 1791.0,1020.6 1807.3,1015.9 L 1929.8,1008.4 L 1929.8,944.1 L 1692.0,944.1 Z" fill="#f6f6f7" />
<path d="M 1690.0,950.2 L 1623.7,966.5 L 1555.3,983.5 C 1542.0,988.0 1531.8,997.1 1527.8,1008.4 L 1517.6,1046.1 L 1505.3,1099.2 L 1496.1,1154.3 C 1495.1,1164.5 1499.2,1172.7 1505.3,1174.7 L 1582.9,1156.7 L 1691.4,1164.5 L 1703.3,1144.1 L 1721.6,1099.2 L 1738.0,1054.3 L 1747.1,1038.4 L 1733.9,1015.9 L 1697.1,1018.6 L 1690.0,1001.2 Z" fill="#050304" />
<polygon points="1683.9,949.2 1729.8,944.1 1729.8,1015.9 1697.1,1018.6 1688.0,1001.2" fill="url(#lwhite)" />
<polygon points="1501.2,1173.7 1582.9,1156.7 1691.4,1164.5 1693.1,1181.8 1662.9,1203.3 1656.3,1207.8 1507.3,1195.1 1499.2,1184.9" fill="url(#lfloor)" />
<path d="M 1535.9,1182.4 L 1580.8,1159.4 C 1582.9,1158.0 1586.9,1158.0 1591.0,1158.4 L 1689.4,1165.5 L 1674.7,1176.7 L 1646.1,1190.6 C 1642.0,1192.2 1635.9,1192.2 1629.8,1191.8 L 1546.1,1186.1 C 1538.0,1185.7 1532.9,1184.9 1535.9,1182.4 Z" fill="#47423a" />
<polygon points="1590.0,1043.1 1644.1,1029.8 1729.8,1015.9 1734.3,1015.9 1746.7,1039.0 1740.0,1051.8" fill="#423d34" />
<path d="M 1590.0,1043.7 L 1740.0,1051.8 L 1733.9,1073.1 L 1598.8,1063.7 C 1595.1,1058.4 1592.0,1050.2 1590.0,1043.7 Z" fill="url(#riser)" />
<polygon points="1579.8,1070.6 1597.1,1065.9 1731.4,1073.7 1729.8,1079.2" fill="#3b372f" />
<path d="M 1579.8,1071.2 L 1729.8,1079.2 L 1722.7,1102.7 L 1588.6,1092.2 C 1584.9,1085.9 1581.8,1078.8 1579.8,1071.2 Z" fill="url(#riser)" />
<polygon points="1569.6,1099.8 1589.0,1094.5 1720.0,1102.7 1718.6,1108.8" fill="#3b372f" />
<path d="M 1569.6,1100.4 L 1718.6,1108.8 L 1710.4,1132.2 L 1579.2,1121.8 C 1574.7,1115.5 1571.6,1108.4 1569.6,1100.4 Z" fill="url(#riser)" />
<polygon points="1559.4,1129.8 1578.8,1124.1 1707.8,1132.4 1705.3,1139.4" fill="#3b372f" />
<path d="M 1559.4,1130.4 L 1705.3,1139.4 L 1695.1,1162.9 L 1586.9,1156.7 C 1572.7,1154.3 1562.4,1144.1 1559.4,1130.4 Z" fill="url(#riser)" />
<polygon points="1691.4,1164.5 1703.3,1144.1 1721.6,1099.2 1738.0,1054.3 1747.1,1038.4 1762.4,1025.7 1786.9,1011.8 1827.8,1011.8 1807.3,1015.9 1782.9,1027.8 1768.6,1046.1 1758.4,1070.6 1742.0,1113.5 1725.7,1156.3 1711.4,1179.8 1693.1,1181.8" fill="#f7f7f8" />
<polygon points="1480.0,1192.7 1656.7,1207.6 1654.3,1213.9 1485.3,1199.6" fill="#050304" />
<polygon points="1485.3,1199.6 1654.3,1213.9 1646.5,1222.9 1494.7,1210.6" fill="#f4f4f5" />
<path d="M 1494.7,1210.6 L 1646.5,1222.9 L 1664.5,1211.4 L 1684.9,1225.7 C 1623.7,1235.9 1542.0,1238.0 1494.7,1210.6 Z" fill="#050304" />
<polygon points="1700.2,970.0 1840.0,968.4 1843.3,970.6 1835.9,973.3 1698.2,972.7" fill="#3f3a31" />
<polygon points="1700.2,969.4 1840.0,967.8 1840.4,968.8 1700.2,970.6" fill="#c9b79a" />
<polygon points="1685.9,996.9 1758.4,993.3 1758.8,996.3 1686.9,999.4" fill="#3f3a31" />
<polygon points="1685.9,996.3 1758.4,992.7 1758.4,993.7 1685.9,997.6" fill="#b9a98e" />
<path d="M 1729.8,1005.7 C 1740.0,1000.2 1758.4,997.6 1774.7,997.1 L 1774.7,1001.2 L 1909.4,1006.9 L 1909.4,1010.4 L 1807.3,1015.9 L 1786.9,1011.8 L 1762.4,1025.7 L 1747.1,1038.4 L 1735.9,1017.6 Z" fill="url(#lfair)" />
<path d="M 1804.5,1015.1 L 2340.0,1027.7 L 2473.6,1041.7 L 2501.4,1045.4 L 2506.4,1064.4 L 2514.0,1102.4 L 2496.3,1102.4 L 2486.2,1092.2 C 2473.6,1082.1 2448.3,1078.3 2397.7,1077.1 L 2340.0,1075.0 L 2043.5,1061.9 L 1856.4,1054.8 C 1836.1,1058.1 1823.5,1066.9 1814.6,1077.1 Z" fill="url(#fillet)" />
<polygon points="1806.3,1015.9 1858.9,1015.9 1858.9,1082.1 1815.9,1082.1 1808.3,1051.8" fill="url(#filletL)" />
<polygon points="1901.9,937.4 1932.2,936.9 1967.7,930.4 1967.7,963.2 1950.0,963.2 1948.7,987.3 1901.9,985.5" fill="url(#shoulderL)" />
<polygon points="1948.7,960.7 2319.3,970.1 2319.3,999.9 1948.7,987.3" fill="#f5f5f6" />
<polygon points="2319.3,970.1 2333.7,963.2 2333.7,998.1 2319.3,999.9" fill="#141314" />
<polygon points="1939.8,938.4 2059.2,903.8 2061.3,948.1 1976.5,946.8 1975.2,961.2 1950.0,961.2" fill="#070506" />
<polygon points="2058.7,903.8 2076.4,903.8 2077.2,948.6 2061.3,948.1" fill="#f2f2f3" />
<polygon points="2076.4,903.8 2105.5,898.7 2113.1,949.3 2077.2,948.6" fill="#0b090a" />
<polygon points="1975.2,946.8 2074.4,949.3 2076.4,962.5 1977.8,960.7" fill="#7a5127" />
<polygon points="2078.5,949.6 2181.7,953.1 2183.2,966.3 2080.2,963.2" fill="#7d5329" />
<polygon points="2184.2,953.6 2307.1,957.2 2307.1,969.8 2185.7,967.3" fill="#7a5127" />
<polygon points="1975.2,946.8 2074.4,949.3 2074.4,950.6 1975.2,948.1" fill="#8f6232" />
<polygon points="1771.6,984.7 2340.0,1005.7 2597.5,1016.4 2605.1,1034.1 2595.0,1038.6 2340.0,1026.5 2094.1,1011.8 1770.9,1001.7" fill="#fafafa" />
<polygon points="1776.7,978.9 2340.0,999.4 2598.8,1012.6 2597.5,1016.9 2340.0,1005.7 1774.1,984.7" fill="url(#beamtop)" />
<polygon points="1770.9,1001.2 2094.1,1011.3 2340.0,1025.7 2596.2,1038.1 2595.0,1040.6 2340.0,1028.5 2094.1,1013.8 1770.9,1003.7" fill="#8e9094" />
<polygon points="2569.7,1015.1 2598.8,1016.4 2605.1,1034.1 2595.0,1038.6 2569.7,1037.4" fill="url(#beamend)" />
<polygon points="2693.7,982.7 2721.9,1013.0 2732.8,1032.5 2735.4,1065.1 2726.3,1130.1 2713.3,1195.2 2700.2,1260.2 2693.7,1275.4 2680.7,1281.9 2691.6,1238.5 2695.9,1208.2 2708.9,1104.1 2693.7,1071.6 2687.2,1056.4 2692.7,1037.9 2689.4,982.7" fill="url(#rinner)" />
<path d="M 2697.4,978.3 C 2719.4,990.3 2735.4,1010.3 2745.5,1055.0 L 2691.4,1055.0 L 2693.4,1004.3 Z" fill="#2c2d30" />
<path d="M 2697.4,978.3 L 2739.5,1010.4 L 2752.3,1026.0 C 2761.0,1043.4 2769.6,1060.7 2770.1,1073.7 L 2766.4,1130.1 L 2752.3,1206.0 L 2739.3,1266.7 C 2734.9,1290.6 2728.4,1307.9 2713.3,1312.3 L 2479.1,1292.8 L 2466.0,1277.6 L 2470.4,1265.0 L 2680.7,1281.9 C 2689.4,1279.7 2695.9,1273.2 2700.2,1260.2 L 2713.3,1195.2 L 2726.3,1130.1 L 2735.4,1065.1 C 2734.9,1047.7 2732.8,1032.5 2721.9,1013.0 Z" fill="url(#rframeR)" />
<path d="M 2697.4,978.3 L 2739.5,1010.4 L 2752.3,1026.0 C 2761.0,1043.4 2769.6,1060.7 2770.1,1073.7 L 2768.8,1093.2 L 2734.5,1093.2 L 2735.4,1065.1 C 2734.9,1047.7 2732.8,1032.5 2721.9,1013.0 Z" fill="url(#rframeTop)" />
<polygon points="2424.8,1034.7 2457.4,1036.9 2464.3,1086.7 2479.1,1184.3 2488.8,1227.7 2479.1,1238.5 2470.4,1265.6 2466.0,1277.6 2459.5,1238.5 2448.7,1173.5 2433.5,1086.7" fill="url(#rframeL)" />
<polygon points="2463.9,1074.8 2552.8,1075.9 2557.1,1049.9 2687.2,1057.5 2693.7,1071.6 2706.8,1095.4 2708.9,1105.2 2464.3,1087.8" fill="#3d382e" />
<polygon points="2457.4,1036.9 2557.1,1027.1 2559.3,1032.5 2557.1,1049.9 2552.8,1075.9 2463.9,1074.8" fill="url(#rbox)" />
<polygon points="2464.3,1087.8 2708.9,1105.2 2703.5,1126.9 2468.2,1113.8" fill="url(#riser)" />
<polygon points="2469.3,1121.4 2704.6,1135.5 2698.1,1160.5 2474.7,1149.6" fill="url(#riser)" />
<polygon points="2475.8,1157.2 2700.2,1172.4 2693.7,1198.4 2480.1,1185.4" fill="url(#riser)" />
<polygon points="2481.2,1194.1 2695.9,1209.3 2691.6,1234.2 2680.7,1238.5 2488.8,1227.7" fill="url(#riser)" />
<polygon points="2468.2,1113.8 2703.5,1126.9 2704.6,1135.5 2469.3,1121.4" fill="#39342b" />
<polygon points="2474.7,1149.6 2698.1,1160.5 2700.2,1172.4 2475.8,1157.2" fill="#39342b" />
<polygon points="2480.1,1185.4 2693.7,1198.4 2695.9,1209.3 2481.2,1194.1" fill="#39342b" />
<polygon points="2488.8,1227.7 2680.7,1238.5 2691.6,1234.2 2693.7,1275.4 2680.7,1281.9 2470.4,1265.0 2479.1,1238.5" fill="url(#rfloor)" />
<path d="M 2505.1,1227.7 L 2650.4,1238.1 C 2653.6,1238.5 2655.1,1240.3 2655.1,1242.9 L 2655.1,1271.1 C 2654.7,1273.7 2652.5,1274.5 2649.3,1274.1 L 2511.6,1263.7 C 2508.5,1263.3 2507.2,1262.0 2506.8,1259.4 L 2500.7,1231.6 C 2500.3,1229.0 2502.0,1227.7 2505.1,1227.7 Z" fill="#3d372b" />
<polygon points="2466.0,1277.6 2724.5,1300.6 2721.9,1306.2 2469.3,1284.1" fill="#050304" />
<polygon points="2469.3,1284.1 2721.9,1306.2 2711.5,1314.9 2479.1,1293.2" fill="#f4f4f5" />
<path d="M 2479.1,1293.2 L 2711.5,1314.9 C 2695.9,1325.3 2652.5,1332.9 2609.2,1331.8 C 2555.0,1329.6 2500.7,1314.4 2479.1,1293.2 Z" fill="#050304" />
<path d="M 2414.0,951.3 C 2422.8,948.8 2440.3,948.8 2450.3,950.1 L 2685.7,972.6 C 2693.2,975.1 2697.0,978.9 2697.0,983.9 L 2690.7,1002.7 L 2687.0,1060.3 L 2559.3,1050.3 L 2558.0,1029.0 L 2519.2,1027.7 L 2515.4,1008.2 L 2407.7,1000.2 L 2410.3,975.1 Z" fill="url(#rshoulder)" />
<polygon points="2529.2,994.7 2685.7,1004.4 2688.7,1007.9 2533.0,999.2" fill="#4a4437" />
<polygon points="2529.2,1022.0 2688.7,1036.5 2691.2,1040.5 2559.3,1031.7 2531.7,1025.2" fill="#4a4437" />
<polygon points="2456.6,1039.0 2558.0,1029.0 2560.5,1040.2 2555.5,1072.8 2467.8,1076.5 2460.3,1062.8" fill="url(#rbox2)" />
<polygon points="2327.6,910.0 2435.3,913.8 2415.3,951.3 2410.3,975.1 2407.7,1000.2 2335.1,998.2" fill="#efeff0" />
<polygon points="2334.6,981.4 2408.2,984.4 2407.7,1000.2 2334.6,998.2" fill="#4a4234" />
<line x1="2073.7" y1="640.9" x2="2114.0" y2="1005.5" stroke="#e2e3e5" stroke-width="2.0" />
<line x1="2073.7" y1="640.9" x2="2114.0" y2="1005.5" stroke="#77797c" stroke-width="0.6" transform="translate(1.5,0)"/>
</g>
<g id="planL">
<polygon points="450.1,955.2 361.2,955.2 360.1,1100.0 359.7,1146.7 356.9,1161.9 347.1,1168.4 321.1,1174.9 276.6,1185.3 270.1,1192.7 269.0,1207.5 269.7,1224.8 272.3,1255.2 274.5,1264.9 274.5,1272.5 277.3,1273.6 278.1,1280.1 280.3,1281.2 281.2,1287.7 287.5,1288.8 289.0,1319.2 326.5,1319.2 328.0,1288.8 333.7,1287.7 334.5,1281.2 336.3,1280.1 337.3,1273.6 337.8,1264.9 339.5,1256.3 316.7,1255.2 313.5,1250.8 313.5,1231.3 316.7,1225.9 450.1,1225.9 449.9,1225.9 583.3,1225.9 586.5,1231.3 586.5,1250.8 583.3,1255.2 560.5,1256.3 562.2,1264.9 562.7,1273.6 563.7,1280.1 565.5,1281.2 566.3,1287.7 572.0,1288.8 573.5,1319.2 611.0,1319.2 612.5,1288.8 618.8,1287.7 619.7,1281.2 621.9,1280.1 622.7,1273.6 625.5,1272.5 625.5,1264.9 627.7,1255.2 630.3,1224.8 631.0,1207.5 629.9,1192.7 623.4,1185.3 578.9,1174.9 552.9,1168.4 543.1,1161.9 540.3,1146.7 539.9,1100.0 538.8,955.2 449.9,955.2" fill="#e9e1d7" stroke="none" stroke-width="0" />
<polygon points="360.1,868.4 379.6,868.4 379.6,834.8 450.1,834.8 450.1,832.0 520.6,832.0 520.6,853.3 539.0,853.3 539.0,883.6 520.6,883.6 520.6,927.0 450.1,927.0 450.1,953.0 375.3,953.0 375.3,901.0 360.1,901.0" fill="#e9e1d7" stroke="none" stroke-width="0" />
<path d="M350.4,868.4 C350.4,858.5 348.0,819.8 350.4,808.8 C352.7,797.8 355.6,804.4 364.5,802.5 C373.3,800.6 389.4,798.5 403.5,797.3 C417.6,796.1 437.1,795.6 449.0,795.3 C461.0,795.1 470.7,795.9 475.1,796.0" fill="none" stroke="none" stroke-width="1.0" stroke-linejoin="round" stroke-linecap="round" />
<path d="M350.4,868.4 L350.4,809.4 C368.8,800.1 414.3,795.3 475.1,795.8 L475.1,832.0 L450.1,832.0 L450.1,834.8 L379.6,834.8 L379.6,868.4 L350.4,868.4 Z" fill="#b88c4c"/>
<path d="M475.1,795.8 C507.6,795.8 538.0,800.1 549.2,809.4 L549.2,853.3 L520.6,853.3 L520.6,832.7 L475.1,832.7 L475.1,795.8 Z" fill="#b88c4c"/>
<polyline points="475.1,796.0 475.1,832.2" fill="none" stroke="#7a5a2a" stroke-width="0.7" stroke-linejoin="round" stroke-linecap="round" />
<rect x="350.4" y="901.0" width="24.9" height="51.6" rx="0.0" fill="#b88c4c" stroke="none" stroke-width="0" />
<rect x="391.6" y="840.7" width="25.4" height="24.9" rx="0.0" fill="#b88c4c" stroke="none" stroke-width="0" />
<polygon points="357.5,812.0 443.6,812.0 443.6,833.7 379.6,833.7 379.6,861.9 357.5,861.9" fill="#f8e3a0" stroke="#8a6a2a" stroke-width="0.7" />
<rect x="433.9" y="813.3" width="9.5" height="20.0" rx="3.0" fill="#f3d98a" stroke="#8a6a2a" stroke-width="0.6" />
<rect x="358.4" y="854.6" width="20.8" height="6.9" rx="2.0" fill="#f3d98a" stroke="#8a6a2a" stroke-width="0.6" />
<polyline points="353.6,808.8 446.9,808.8 446.9,834.8" fill="none" stroke="#8a6a2a" stroke-width="0.6" stroke-linejoin="round" stroke-linecap="round" />
<rect x="483.3" y="814.7" width="27.5" height="18.7" rx="0.0" fill="#c9b393" stroke="#8a7a5a" stroke-width="0.5" />
<rect x="485.5" y="833.7" width="21.7" height="13.4" rx="3.0" fill="#f8e3a0" stroke="#1a1a1a" stroke-width="0.8" />
<rect x="483.3" y="835.9" width="3.3" height="9.1" rx="2.0" fill="#f8e3a0" stroke="#1a1a1a" stroke-width="0.6" />
<rect x="505.9" y="835.9" width="3.5" height="9.1" rx="2.0" fill="#f8e3a0" stroke="#1a1a1a" stroke-width="0.6" />
<g transform="translate(437.1,874.3) rotate(38.0)"><path d="M-13.5,12.2 L13.5,12.2 L13.5,-1.4 C13.5,-16.7 -13.5,-16.7 -13.5,-1.4 Z" fill="#f8e3a0" stroke="#1a1a1a" stroke-width="0.9"/><path d="M10.8,12.2 L10.8,-0.5 C10.8,-13.0 -10.8,-13.0 -10.8,-0.5 L-10.8,12.2" fill="none" stroke="#3a3322" stroke-width="0.6"/></g>
<defs><linearGradient id="stL" x1="0" y1="0" x2="1" y2="0"><stop offset="0" stop-color="#5e5e5e"/><stop offset="1" stop-color="#e6e6e6"/></linearGradient><linearGradient id="stR" x1="0" y1="0" x2="1" y2="0"><stop offset="0" stop-color="#ededed"/><stop offset="1" stop-color="#4e4e4e"/></linearGradient></defs>
<rect x="320.0" y="870.6" width="30.4" height="29.3" rx="0.0" fill="url(#stL)" stroke="none" stroke-width="0" />
<polyline points="326.5,870.6 326.5,899.9" fill="none" stroke="#555" stroke-width="0.5" stroke-linejoin="round" stroke-linecap="round" />
<polyline points="332.4,870.6 332.4,899.9" fill="none" stroke="#555" stroke-width="0.5" stroke-linejoin="round" stroke-linecap="round" />
<polyline points="338.4,870.6 338.4,899.9" fill="none" stroke="#555" stroke-width="0.5" stroke-linejoin="round" stroke-linecap="round" />
<polyline points="344.5,870.6 344.5,899.9" fill="none" stroke="#555" stroke-width="0.5" stroke-linejoin="round" stroke-linecap="round" />
<polyline points="320.0,885.3 350.4,885.3" fill="none" stroke="#555" stroke-width="0.5" stroke-linejoin="round" stroke-linecap="round" />
<rect x="350.4" y="870.6" width="9.8" height="29.3" rx="0.0" fill="#ffffff" stroke="#888" stroke-width="0.4" />
<polyline points="350.8,871.0 359.7,881.4 350.8,899.2" fill="none" stroke="#777" stroke-width="0.4" stroke-linejoin="round" stroke-linecap="round" />
<rect x="548.8" y="853.3" width="27.1" height="30.4" rx="0.0" fill="url(#stR)" stroke="none" stroke-width="0" />
<polyline points="554.9,853.3 554.9,883.6" fill="none" stroke="#555" stroke-width="0.5" stroke-linejoin="round" stroke-linecap="round" />
<polyline points="560.7,853.3 560.7,883.6" fill="none" stroke="#555" stroke-width="0.5" stroke-linejoin="round" stroke-linecap="round" />
<polyline points="566.6,853.3 566.6,883.6" fill="none" stroke="#555" stroke-width="0.5" stroke-linejoin="round" stroke-linecap="round" />
<polyline points="572.2,853.3 572.2,883.6" fill="none" stroke="#555" stroke-width="0.5" stroke-linejoin="round" stroke-linecap="round" />
<polyline points="548.8,868.4 575.9,868.4" fill="none" stroke="#555" stroke-width="0.5" stroke-linejoin="round" stroke-linecap="round" />
<rect x="539.0" y="853.7" width="9.8" height="29.9" rx="0.0" fill="#ffffff" stroke="#888" stroke-width="0.4" />
<polyline points="548.4,854.1 539.7,866.3 548.4,883.2" fill="none" stroke="#777" stroke-width="0.4" stroke-linejoin="round" stroke-linecap="round" />
<polygon points="520.6,883.6 549.2,883.6 549.2,952.6 450.1,952.6 450.1,927.0 520.6,927.0" fill="#f3f7fb" stroke="none" stroke-width="0" />
<rect x="521.7" y="894.5" width="21.0" height="24.3" rx="1.0" fill="#5fa9d2" stroke="#2c6d94" stroke-width="0.8" />
<circle cx="527.5" cy="901.2" r="3.0" fill="#1f5a7c"/>
<circle cx="536.2" cy="900.1" r="4.1" fill="#1f5a7c"/>
<circle cx="527.3" cy="911.8" r="4.1" fill="#1f5a7c"/>
<circle cx="536.9" cy="912.0" r="2.6" fill="#1f5a7c"/>
<rect x="463.3" y="930.5" width="20.0" height="16.0" rx="3.0" fill="#7dbee7" stroke="#3f86ae" stroke-width="0.9" />
<circle cx="477.2" cy="943.3" r="1.6" fill="#2a2a2a"/>
<circle cx="477.7" cy="949.8" r="1.4" fill="#2a2a2a"/>
<rect x="322.8" y="1065.4" width="35.1" height="31.9" rx="3.5" fill="#cfe4f6" stroke="#1a1a1a" stroke-width="0.8" />
<rect x="542.3" y="1065.4" width="34.7" height="31.9" rx="3.5" fill="#cfe4f6" stroke="#1a1a1a" stroke-width="0.8" />
<rect x="310.7" y="986.6" width="30.4" height="15.8" rx="2.5" fill="#f8e3a0" stroke="#d8c078" stroke-width="0.5" />
<rect x="558.6" y="986.6" width="29.7" height="15.8" rx="2.5" fill="#f8e3a0" stroke="#d8c078" stroke-width="0.5" />
<rect x="414.3" y="1001.2" width="19.5" height="12.1" rx="0.0" fill="#f8e3a0" stroke="#1a1a1a" stroke-width="0.8" />
<rect x="416.5" y="1003.3" width="15.2" height="9.5" rx="0.0" fill="#f8e3a0" stroke="#6a5a2a" stroke-width="0.5" />
<rect x="414.3" y="1045.4" width="19.5" height="12.1" rx="0.0" fill="#f8e3a0" stroke="#1a1a1a" stroke-width="0.8" />
<rect x="416.5" y="1045.8" width="15.2" height="9.5" rx="0.0" fill="#f8e3a0" stroke="#6a5a2a" stroke-width="0.5" />
<rect x="439.5" y="1001.2" width="19.7" height="12.1" rx="0.0" fill="#f8e3a0" stroke="#1a1a1a" stroke-width="0.8" />
<rect x="441.7" y="1003.3" width="15.4" height="9.5" rx="0.0" fill="#f8e3a0" stroke="#6a5a2a" stroke-width="0.5" />
<rect x="439.5" y="1045.4" width="19.7" height="12.1" rx="0.0" fill="#f8e3a0" stroke="#1a1a1a" stroke-width="0.8" />
<rect x="441.7" y="1045.8" width="15.4" height="9.5" rx="0.0" fill="#f8e3a0" stroke="#6a5a2a" stroke-width="0.5" />
<rect x="464.9" y="1001.2" width="19.3" height="12.1" rx="0.0" fill="#f8e3a0" stroke="#1a1a1a" stroke-width="0.8" />
<rect x="467.0" y="1003.3" width="15.0" height="9.5" rx="0.0" fill="#f8e3a0" stroke="#6a5a2a" stroke-width="0.5" />
<rect x="464.9" y="1045.4" width="19.3" height="12.1" rx="0.0" fill="#f8e3a0" stroke="#1a1a1a" stroke-width="0.8" />
<rect x="467.0" y="1045.8" width="15.0" height="9.5" rx="0.0" fill="#f8e3a0" stroke="#6a5a2a" stroke-width="0.5" />
<rect x="407.8" y="1012.2" width="84.1" height="34.0" rx="0.0" fill="#b88c4c" stroke="none" stroke-width="0" />
<polyline points="435.4,1012.2 435.4,1046.3" fill="none" stroke="#3a2a10" stroke-width="0.9" stroke-linejoin="round" stroke-linecap="round" />
<polyline points="463.8,1012.2 463.8,1046.3" fill="none" stroke="#3a2a10" stroke-width="0.9" stroke-linejoin="round" stroke-linecap="round" />
<g transform="translate(407.4,1145.2) rotate(-35.0)"><path d="M-12.5,11.2 L12.5,11.2 L12.5,-1.2 C12.5,-15.5 -12.5,-15.5 -12.5,-1.2 Z" fill="#f8e3a0" stroke="#1a1a1a" stroke-width="0.9"/><path d="M10.0,11.2 L10.0,-0.5 C10.0,-12.0 -10.0,-12.0 -10.0,-0.5 L-10.0,11.2" fill="none" stroke="#3a3322" stroke-width="0.6"/></g>
<g transform="translate(483.3,1121.4) rotate(22.0)"><path d="M-12.5,11.2 L12.5,11.2 L12.5,-1.2 C12.5,-15.5 -12.5,-15.5 -12.5,-1.2 Z" fill="#f8e3a0" stroke="#1a1a1a" stroke-width="0.9"/><path d="M10.0,11.2 L10.0,-0.5 C10.0,-12.0 -10.0,-12.0 -10.0,-0.5 L-10.0,11.2" fill="none" stroke="#3a3322" stroke-width="0.6"/></g>
<rect x="436.5" y="1147.4" width="54.2" height="30.8" rx="0.0" fill="#b88c4c" stroke="none" stroke-width="0" />
<polyline points="463.1,1147.4 463.1,1178.2" fill="none" stroke="#2a1a08" stroke-width="1.1" stroke-linejoin="round" stroke-linecap="round" />
<rect x="385.1" y="1184.7" width="128.0" height="38.6" rx="0.0" fill="#f8e3a0" stroke="#c9b070" stroke-width="0.4" />
<polyline points="394.4,1184.7 394.4,1223.3" fill="none" stroke="#1a1a1a" stroke-width="1.0" stroke-linejoin="round" stroke-linecap="round" />
<polyline points="431.3,1184.7 431.3,1223.3" fill="none" stroke="#1a1a1a" stroke-width="1.0" stroke-linejoin="round" stroke-linecap="round" />
<polyline points="467.9,1184.7 467.9,1223.3" fill="none" stroke="#1a1a1a" stroke-width="1.0" stroke-linejoin="round" stroke-linecap="round" />
<polyline points="505.4,1184.7 505.4,1223.3" fill="none" stroke="#1a1a1a" stroke-width="1.0" stroke-linejoin="round" stroke-linecap="round" />
<polyline points="392.2,1184.7 392.2,1223.3" fill="none" stroke="#c9b070" stroke-width="0.5" stroke-linejoin="round" stroke-linecap="round" />
<polyline points="413.3,1210.1 488.1,1210.1" fill="none" stroke="#1a1a1a" stroke-width="0.9" stroke-linejoin="round" stroke-linecap="round" />
<polyline points="385.1,1223.5 513.0,1223.5" fill="none" stroke="#1a1a1a" stroke-width="1.0" stroke-linejoin="round" stroke-linecap="round" />
<path d="M302.7,489.9 C302.2,492.2 301.1,496.4 299.8,503.4 C298.6,510.3 297.4,517.1 295.1,531.6 C292.7,546.0 288.8,570.6 286.0,590.1 C283.1,609.6 280.2,628.8 277.7,648.7 C275.3,668.6 273.2,690.2 271.2,709.4 C269.2,728.6 267.2,748.0 265.8,763.6 C264.3,779.3 263.5,785.9 262.5,803.4 C261.6,820.8 260.8,846.7 259.9,868.4 C259.0,890.1 257.8,908.2 257.1,933.5 C256.5,958.8 256.5,995.5 256.0,1020.2 C255.6,1044.9 254.5,1060.6 254.3,1081.7 C254.1,1102.8 254.7,1128.7 254.9,1146.7 C255.2,1164.8 255.2,1172.0 255.6,1190.1 C256.0,1208.2 256.5,1238.9 257.1,1255.2 C257.7,1271.4 258.2,1279.6 259.3,1287.7 C260.4,1295.8 261.3,1299.3 263.6,1304.0 C266.0,1308.7 269.2,1313.0 273.4,1315.9 C277.5,1318.8 286.0,1320.4 288.6,1321.3" fill="none" stroke="#1a1a1a" stroke-width="1.15" stroke-linejoin="round" stroke-linecap="round" />
<path d="M597.3,489.9 C597.8,492.2 598.9,496.4 600.2,503.4 C601.4,510.3 602.6,517.1 604.9,531.6 C607.3,546.0 611.2,570.6 614.0,590.1 C616.9,609.6 619.8,628.8 622.3,648.7 C624.7,668.6 626.8,690.2 628.8,709.4 C630.8,728.6 632.8,748.0 634.2,763.6 C635.7,779.3 636.5,785.9 637.5,803.4 C638.4,820.8 639.2,846.7 640.1,868.4 C641.0,890.1 642.2,908.2 642.9,933.5 C643.5,958.8 643.5,995.5 644.0,1020.2 C644.4,1044.9 645.5,1060.6 645.7,1081.7 C645.9,1102.8 645.3,1128.7 645.1,1146.7 C644.8,1164.8 644.8,1172.0 644.4,1190.1 C644.0,1208.2 643.5,1238.9 642.9,1255.2 C642.3,1271.4 641.8,1279.6 640.7,1287.7 C639.6,1295.8 638.7,1299.3 636.4,1304.0 C634.0,1308.7 630.8,1313.0 626.6,1315.9 C622.5,1318.8 614.0,1320.4 611.4,1321.3" fill="none" stroke="#1a1a1a" stroke-width="1.15" stroke-linejoin="round" stroke-linecap="round" />
<path d="M306.1,489.9 C306.5,492.2 307.3,496.4 308.5,503.4 C309.7,510.3 311.0,516.4 313.5,531.6 C316.0,546.7 320.2,573.9 323.3,594.5 C326.3,615.1 329.4,634.6 331.9,655.2 C334.5,675.8 336.6,703.6 338.4,718.1 C340.2,732.5 341.3,732.7 342.8,741.9 C344.2,751.1 346.4,768.1 347.1,773.4" fill="none" stroke="#1a1a1a" stroke-width="1.15" stroke-linejoin="round" stroke-linecap="round" />
<path d="M593.9,489.9 C593.5,492.2 592.7,496.4 591.5,503.4 C590.3,510.3 589.0,516.4 586.5,531.6 C584.0,546.7 579.8,573.9 576.7,594.5 C573.7,615.1 570.6,634.6 568.1,655.2 C565.5,675.8 563.4,703.6 561.6,718.1 C559.8,732.5 558.7,732.7 557.2,741.9 C555.8,751.1 553.6,768.1 552.9,773.4" fill="none" stroke="#1a1a1a" stroke-width="1.15" stroke-linejoin="round" stroke-linecap="round" />
<path d="M302.7,490.0 a1.7,1.7 0 0 1 3.4,0" fill="none" stroke="#1a1a1a" stroke-width="1.1"/>
<path d="M593.9,490.0 a1.7,1.7 0 0 1 3.4,0" fill="none" stroke="#1a1a1a" stroke-width="1.1"/>
<polyline points="341.7,723.5 347.5,773.4" fill="none" stroke="#1a1a1a" stroke-width="0.8" stroke-linejoin="round" stroke-linecap="round" />
<polyline points="558.3,723.5 552.5,773.4" fill="none" stroke="#1a1a1a" stroke-width="0.8" stroke-linejoin="round" stroke-linecap="round" />
<path d="M338.4,718.1 C339.5,719.0 337.7,721.1 344.9,723.5 C352.2,725.8 367.0,729.5 381.8,732.2 C396.6,734.8 424.5,738.6 433.9,739.3 C443.2,740.0 436.1,738.7 437.8,736.5 C439.4,734.3 441.7,728.0 443.6,725.9 C445.6,723.7 448.5,724.1 449.5,723.7" fill="none" stroke="#1a1a1a" stroke-width="1.1" stroke-linejoin="round" stroke-linecap="round" />
<path d="M561.6,718.1 C560.5,719.0 562.3,721.1 555.1,723.5 C547.8,725.8 533.0,729.5 518.2,732.2 C503.4,734.8 475.5,738.6 466.1,739.3 C456.8,740.0 463.9,738.7 462.2,736.5 C460.6,734.3 458.3,728.0 456.4,725.9 C454.4,723.7 451.5,724.1 450.5,723.7" fill="none" stroke="#1a1a1a" stroke-width="1.1" stroke-linejoin="round" stroke-linecap="round" />
<path d="M300.5,1038.0 C299.8,1027.8 297.3,997.9 296.1,976.9 C295.0,955.8 293.1,931.7 293.3,911.8 C293.5,891.9 295.1,873.9 297.2,857.6 C299.3,841.3 302.7,825.4 305.9,814.2 C309.2,803.0 313.5,796.0 316.7,790.4 C320.0,784.8 318.2,783.8 325.4,780.6 C332.7,777.4 347.1,773.8 360.1,771.3 C373.1,768.7 388.5,766.5 403.5,765.2 C418.5,763.9 442.3,763.6 450.1,763.3" fill="none" stroke="#1a1a1a" stroke-width="2.0" stroke-linejoin="round" stroke-linecap="round" />
<path d="M599.5,1038.0 C600.2,1027.8 602.7,997.9 603.9,976.9 C605.0,955.8 606.9,931.7 606.7,911.8 C606.5,891.9 604.9,873.9 602.8,857.6 C600.7,841.3 597.3,825.4 594.1,814.2 C590.8,803.0 586.5,796.0 583.3,790.4 C580.0,784.8 581.8,783.8 574.6,780.6 C567.3,777.4 552.9,773.8 539.9,771.3 C526.9,768.7 511.5,766.5 496.5,765.2 C481.5,763.9 457.7,763.6 449.9,763.3" fill="none" stroke="#1a1a1a" stroke-width="2.0" stroke-linejoin="round" stroke-linecap="round" />
<path d="M325.4,783.4 C331.2,781.9 347.1,776.8 360.1,774.3 C373.1,771.8 388.5,769.6 403.5,768.2 C418.5,766.9 442.3,766.6 450.1,766.3" fill="none" stroke="#1a1a1a" stroke-width="0.8" stroke-linejoin="round" stroke-linecap="round" />
<path d="M574.6,783.4 C568.8,781.9 552.9,776.8 539.9,774.3 C526.9,771.8 511.5,769.6 496.5,768.2 C481.5,766.9 457.7,766.6 449.9,766.3" fill="none" stroke="#1a1a1a" stroke-width="0.8" stroke-linejoin="round" stroke-linecap="round" />
<path d="M317.2,950.8 C317.5,944.3 317.9,925.5 318.9,911.8 C319.9,898.1 321.1,881.1 323.3,868.4 C325.4,855.8 328.3,844.9 331.9,835.9 C335.5,826.9 339.5,819.7 344.9,814.2 C350.4,808.7 354.7,805.8 364.5,802.9 C374.2,800.0 389.2,798.2 403.5,796.9 C417.8,795.5 442.3,795.1 450.1,794.7" fill="none" stroke="#1a1a1a" stroke-width="1.0" stroke-linejoin="round" stroke-linecap="round" />
<path d="M582.8,950.8 C582.5,944.3 582.1,925.5 581.1,911.8 C580.1,898.1 578.9,881.1 576.7,868.4 C574.6,855.8 571.7,844.9 568.1,835.9 C564.5,826.9 560.5,819.7 555.1,814.2 C549.6,808.7 545.3,805.8 535.5,802.9 C525.8,800.0 510.8,798.2 496.5,796.9 C482.2,795.5 457.7,795.1 449.9,794.7" fill="none" stroke="#1a1a1a" stroke-width="1.0" stroke-linejoin="round" stroke-linecap="round" />
<path d="M300.5,1038.0 C300.8,1038.3 301.9,1039.8 302.7,1039.8 C303.4,1039.8 304.5,1038.3 304.8,1038.0" fill="none" stroke="#1a1a1a" stroke-width="1.0" stroke-linejoin="round" stroke-linecap="round" />
<path d="M599.5,1038.0 C599.2,1038.3 598.1,1039.8 597.3,1039.8 C596.6,1039.8 595.5,1038.3 595.2,1038.0" fill="none" stroke="#1a1a1a" stroke-width="1.0" stroke-linejoin="round" stroke-linecap="round" />
<path d="M304.8,1038.0 C305.4,1035.1 306.6,1025.6 308.1,1020.2 C309.5,1014.9 313.2,1009.0 313.5,1006.1 C313.8,1003.3 310.7,1007.8 309.8,1002.9 C308.9,998.0 308.3,984.1 308.1,976.9 C307.9,969.6 307.1,963.8 308.5,959.5 C310.0,955.3 311.0,953.2 316.7,951.3 C322.5,949.3 336.8,948.2 342.8,947.8 C348.7,947.4 350.3,947.7 352.5,949.1 C354.8,950.5 355.3,951.6 356.2,956.3 C357.1,960.9 357.7,973.4 358.0,976.9" fill="none" stroke="#1a1a1a" stroke-width="1.1" stroke-linejoin="round" stroke-linecap="round" />
<path d="M595.2,1038.0 C594.6,1035.1 593.4,1025.6 591.9,1020.2 C590.5,1014.9 586.8,1009.0 586.5,1006.1 C586.2,1003.3 589.3,1007.8 590.2,1002.9 C591.1,998.0 591.7,984.1 591.9,976.9 C592.1,969.6 592.9,963.8 591.5,959.5 C590.0,955.3 589.0,953.2 583.3,951.3 C577.5,949.3 563.2,948.2 557.2,947.8 C551.3,947.4 549.7,947.7 547.5,949.1 C545.2,950.5 544.7,951.6 543.8,956.3 C542.9,960.9 542.3,973.4 542.0,976.9" fill="none" stroke="#1a1a1a" stroke-width="1.1" stroke-linejoin="round" stroke-linecap="round" />
<polyline points="311.3,969.3 356.9,969.3" fill="none" stroke="#888" stroke-width="0.5" stroke-linejoin="round" stroke-linecap="round" />
<polyline points="588.7,969.3 543.1,969.3" fill="none" stroke="#888" stroke-width="0.5" stroke-linejoin="round" stroke-linecap="round" />
<polyline points="315.7,969.3 315.7,998.6 356.9,998.6" fill="none" stroke="#bbb" stroke-width="0.4" stroke-linejoin="round" stroke-linecap="round" />
<polyline points="584.3,969.3 584.3,998.6 543.1,998.6" fill="none" stroke="#bbb" stroke-width="0.4" stroke-linejoin="round" stroke-linecap="round" />
<polyline points="356.9,953.7 543.4,953.7" fill="none" stroke="#1a1a1a" stroke-width="0.9" stroke-linejoin="round" stroke-linecap="round" />
<polyline points="358.0,955.2 542.3,955.2" fill="none" stroke="#1a1a1a" stroke-width="0.6" stroke-linejoin="round" stroke-linecap="round" />
<path d="M360.1,955.2 C360.1,969.7 360.2,1080.9 360.1,1100.0 C360.1,1119.2 360.0,1140.6 359.7,1146.7 C359.4,1152.9 358.1,1159.8 356.9,1161.9 C355.6,1164.1 350.7,1167.1 347.1,1168.4 C343.5,1169.7 328.1,1173.2 321.1,1174.9 C314.0,1176.6 281.7,1183.6 276.6,1185.3 C271.5,1187.1 270.9,1190.3 270.1,1192.7 C269.3,1195.2 268.8,1207.9 268.6,1209.6" fill="none" stroke="#1a1a1a" stroke-width="1.1" stroke-linejoin="round" stroke-linecap="round" />
<path d="M539.9,955.2 C539.9,969.7 539.8,1080.9 539.9,1100.0 C539.9,1119.2 540.0,1140.6 540.3,1146.7 C540.6,1152.9 541.9,1159.8 543.1,1161.9 C544.4,1164.1 549.3,1167.1 552.9,1168.4 C556.5,1169.7 571.9,1173.2 578.9,1174.9 C586.0,1176.6 618.3,1183.6 623.4,1185.3 C628.5,1187.1 629.1,1190.3 629.9,1192.7 C630.7,1195.2 631.2,1207.9 631.4,1209.6" fill="none" stroke="#1a1a1a" stroke-width="1.1" stroke-linejoin="round" stroke-linecap="round" />
<path d="M271.2,1198.8 C278.8,1196.6 308.6,1189.1 316.7,1185.8 C324.9,1182.5 319.7,1180.7 320.0,1178.8 C320.3,1177.0 318.7,1175.2 318.5,1174.5" fill="none" stroke="#1a1a1a" stroke-width="0.7" stroke-linejoin="round" stroke-linecap="round" />
<path d="M628.8,1198.8 C621.2,1196.6 591.4,1189.1 583.3,1185.8 C575.1,1182.5 580.3,1180.7 580.0,1178.8 C579.7,1177.0 581.3,1175.2 581.5,1174.5" fill="none" stroke="#1a1a1a" stroke-width="0.7" stroke-linejoin="round" stroke-linecap="round" />
<path d="M270.3,1192.7 C277.9,1190.7 307.6,1183.1 315.7,1180.4 C323.8,1177.6 318.4,1176.7 318.9,1176.0" fill="none" stroke="#1a1a1a" stroke-width="0.7" stroke-linejoin="round" stroke-linecap="round" />
<path d="M629.7,1192.7 C622.1,1190.7 592.4,1183.1 584.3,1180.4 C576.2,1177.6 581.6,1176.7 581.1,1176.0" fill="none" stroke="#1a1a1a" stroke-width="0.7" stroke-linejoin="round" stroke-linecap="round" />
<path d="M268.6,1209.6 C268.9,1217.2 269.3,1244.0 270.1,1255.2 C270.9,1266.4 272.7,1269.6 273.4,1276.9 C274.1,1284.1 273.4,1292.4 274.5,1298.6 C275.5,1304.7 277.3,1310.2 279.9,1313.7 C282.4,1317.2 288.0,1318.6 289.6,1319.6" fill="none" stroke="#1a1a1a" stroke-width="0.8" stroke-linejoin="round" stroke-linecap="round" />
<path d="M631.4,1209.6 C631.1,1217.2 630.7,1244.0 629.9,1255.2 C629.1,1266.4 627.3,1269.6 626.6,1276.9 C625.9,1284.1 626.6,1292.4 625.5,1298.6 C624.5,1304.7 622.7,1310.2 620.1,1313.7 C617.6,1317.2 612.0,1318.6 610.4,1319.6" fill="none" stroke="#1a1a1a" stroke-width="0.8" stroke-linejoin="round" stroke-linecap="round" />
<path d="M339.5,1256.3 C339.7,1259.7 341.5,1271.3 340.6,1276.9 C339.7,1282.5 336.1,1286.3 334.1,1289.9 C332.1,1293.5 329.8,1293.7 328.7,1298.6 C327.6,1303.4 327.8,1315.7 327.6,1319.2" fill="none" stroke="#1a1a1a" stroke-width="0.8" stroke-linejoin="round" stroke-linecap="round" />
<path d="M560.5,1256.3 C560.3,1259.7 558.5,1271.3 559.4,1276.9 C560.3,1282.5 563.9,1286.3 565.9,1289.9 C567.9,1293.5 570.2,1293.7 571.3,1298.6 C572.4,1303.4 572.2,1315.7 572.4,1319.2" fill="none" stroke="#1a1a1a" stroke-width="0.8" stroke-linejoin="round" stroke-linecap="round" />
<path d="M288.6,1321.3 C295.4,1321.2 321.8,1321.6 329.8,1320.7 C337.7,1319.8 335.2,1319.2 336.3,1315.9 C337.3,1312.7 335.2,1304.8 336.3,1301.2 C337.3,1297.5 340.3,1298.3 342.8,1294.2 C345.2,1290.2 349.7,1283.2 351.0,1276.9 C352.3,1270.5 350.5,1259.7 350.4,1256.3" fill="none" stroke="#1a1a1a" stroke-width="1.0" stroke-linejoin="round" stroke-linecap="round" />
<path d="M611.4,1321.3 C604.6,1321.2 578.2,1321.6 570.2,1320.7 C562.3,1319.8 564.8,1319.2 563.7,1315.9 C562.7,1312.7 564.8,1304.8 563.7,1301.2 C562.7,1297.5 559.7,1298.3 557.2,1294.2 C554.8,1290.2 550.3,1283.2 549.0,1276.9 C547.7,1270.5 549.5,1259.7 549.6,1256.3" fill="none" stroke="#1a1a1a" stroke-width="1.0" stroke-linejoin="round" stroke-linecap="round" />
<polyline points="274.5,1264.9 337.8,1264.9" fill="none" stroke="#8a8378" stroke-width="0.5" stroke-linejoin="round" stroke-linecap="round" />
<polyline points="625.5,1264.9 562.2,1264.9" fill="none" stroke="#8a8378" stroke-width="0.5" stroke-linejoin="round" stroke-linecap="round" />
<polyline points="274.5,1272.5 337.3,1272.5" fill="none" stroke="#8a8378" stroke-width="0.5" stroke-linejoin="round" stroke-linecap="round" />
<polyline points="625.5,1272.5 562.7,1272.5" fill="none" stroke="#8a8378" stroke-width="0.5" stroke-linejoin="round" stroke-linecap="round" />
<polyline points="277.7,1280.1 336.3,1280.1" fill="none" stroke="#8a8378" stroke-width="0.5" stroke-linejoin="round" stroke-linecap="round" />
<polyline points="622.3,1280.1 563.7,1280.1" fill="none" stroke="#8a8378" stroke-width="0.5" stroke-linejoin="round" stroke-linecap="round" />
<polyline points="280.3,1287.7 334.1,1287.7" fill="none" stroke="#8a8378" stroke-width="0.5" stroke-linejoin="round" stroke-linecap="round" />
<polyline points="619.7,1287.7 565.9,1287.7" fill="none" stroke="#8a8378" stroke-width="0.5" stroke-linejoin="round" stroke-linecap="round" />
<polyline points="287.5,1288.8 289.0,1319.2" fill="none" stroke="#555" stroke-width="0.5" stroke-linejoin="round" stroke-linecap="round" />
<polyline points="612.5,1288.8 611.0,1319.2" fill="none" stroke="#555" stroke-width="0.5" stroke-linejoin="round" stroke-linecap="round" />
<polyline points="328.0,1288.8 326.5,1319.2" fill="none" stroke="#555" stroke-width="0.5" stroke-linejoin="round" stroke-linecap="round" />
<polyline points="572.0,1288.8 573.5,1319.2" fill="none" stroke="#555" stroke-width="0.5" stroke-linejoin="round" stroke-linecap="round" />
<path d="M450.1,1225.9 C442.4,1225.9 324.7,1225.6 316.7,1225.9 C308.8,1226.2 313.7,1229.9 313.5,1231.3 C313.3,1232.8 313.3,1249.5 313.5,1250.8 C313.7,1252.2 315.3,1254.9 316.7,1255.2 C318.2,1255.5 336.5,1256.3 338.4,1256.3 C340.4,1256.3 349.5,1255.5 350.4,1255.2 C351.2,1254.9 347.8,1251.2 353.6,1250.8 C359.4,1250.5 444.5,1249.2 450.1,1249.1 C455.7,1249.0 444.3,1249.0 449.9,1249.1 C455.5,1249.2 540.6,1250.5 546.4,1250.8 C552.2,1251.2 548.8,1254.9 549.6,1255.2 C550.5,1255.5 559.6,1256.3 561.6,1256.3 C563.5,1256.3 581.8,1255.5 583.3,1255.2 C584.7,1254.9 586.3,1252.2 586.5,1250.8 C586.7,1249.5 586.7,1232.8 586.5,1231.3 C586.3,1229.9 591.2,1226.2 583.3,1225.9 C575.3,1225.6 457.6,1225.9 449.9,1225.9 C442.1,1225.9 457.9,1225.9 450.1,1225.9 Z" fill="#ffffff" stroke="#1a1a1a" stroke-width="1.0" stroke-linejoin="round" stroke-linecap="round" />
<path d="M325.4,1225.9 C325.4,1226.5 325.2,1234.9 325.4,1235.7 C325.7,1236.5 322.5,1239.3 329.8,1239.6 C337.0,1239.8 443.1,1239.6 450.1,1239.6 C457.1,1239.6 442.9,1239.6 449.9,1239.6 C456.9,1239.6 563.0,1239.8 570.2,1239.6 C577.5,1239.3 574.3,1236.5 574.6,1235.7 C574.8,1234.9 574.6,1226.5 574.6,1225.9" fill="none" stroke="#1a1a1a" stroke-width="1.0" stroke-linejoin="round" stroke-linecap="round" />
<ellipse cx="349.7" cy="1152.2" rx="2.3" ry="8" fill="#fff" stroke="#1a1a1a" stroke-width="0.7"/>
<ellipse cx="551.3" cy="1152.2" rx="2.3" ry="8" fill="#fff" stroke="#1a1a1a" stroke-width="0.7"/>
</g>
<g id="planR">
<polygon points="1005.5,1197.1 952.4,1197.1 931.8,1194.5 901.4,1189.0 890.6,1183.6 886.3,1172.8 871.1,1176.0 829.9,1185.8 823.4,1194.5 822.3,1211.8 823.4,1255.2 826.6,1266.0 826.6,1273.6 829.4,1274.7 830.3,1281.2 833.1,1282.3 834.2,1287.7 841.8,1288.8 842.9,1319.2 880.8,1319.2 881.9,1288.8 887.3,1287.7 888.4,1281.2 890.2,1280.1 891.0,1273.6 891.7,1264.9 893.9,1256.3 871.1,1255.2 867.8,1250.8 867.8,1231.3 871.1,1225.3 1005.5,1225.3 1005.5,1225.3 1140.0,1225.3 1143.3,1231.3 1143.3,1250.8 1140.0,1255.2 1117.2,1256.3 1119.4,1264.9 1120.0,1273.6 1120.9,1280.1 1122.7,1281.2 1123.7,1287.7 1129.2,1288.8 1130.2,1319.2 1168.2,1319.2 1169.3,1288.8 1176.9,1287.7 1178.0,1282.3 1180.8,1281.2 1181.6,1274.7 1184.5,1273.6 1184.5,1266.0 1187.7,1255.2 1188.8,1211.8 1187.7,1194.5 1181.2,1185.8 1140.0,1176.0 1124.8,1172.8 1120.5,1183.6 1109.6,1189.0 1079.3,1194.5 1058.7,1197.1 1005.5,1197.1" fill="#e9e1d7" stroke="none" stroke-width="0" />
<polygon points="948.1,1119.0 1063.0,1119.0 1059.8,1198.8 951.3,1198.8" fill="#e9e1d7" stroke="none" stroke-width="0" />
<defs><linearGradient id="dome" x1="0" y1="0" x2="0" y2="1"><stop offset="0" stop-color="#e3e4e4"/><stop offset="0.5" stop-color="#d6d8d9"/><stop offset="1" stop-color="#e2e3e3"/></linearGradient><pattern id="net" width="4.1" height="4.1" patternUnits="userSpaceOnUse"><path d="M0,0.3 H4.1 M0.3,0 V4.1" stroke="#8a8a8a" stroke-width="0.45" fill="none"/></pattern></defs>
<path d="M947.0,1100.0 C947.0,1094.7 946.3,1075.1 947.0,1068.0 C947.7,1060.8 948.4,1060.3 951.3,1057.1 C954.2,1053.9 955.3,1051.4 964.3,1048.9 C973.4,1046.3 998.7,1043.1 1005.5,1041.9 C1012.4,1040.8 998.7,1040.8 1005.5,1041.9 C1012.4,1043.1 1037.7,1046.3 1046.7,1048.9 C1055.8,1051.4 1056.9,1053.9 1059.8,1057.1 C1062.7,1060.3 1063.4,1060.8 1064.1,1068.0 C1064.8,1075.1 1064.1,1094.7 1064.1,1100.0" fill="none" stroke="none" stroke-width="1.0" stroke-linejoin="round" stroke-linecap="round" />
<path d="M947.4,1118.6 L947.0,1068.0 C948.1,1052.8 975.2,1043.0 1005.5,1041.9 C1035.9,1043.0 1063.0,1052.8 1064.1,1068.0 L1063.7,1118.1 L1063.7,1118.1 C1040.2,1121.8 975.2,1123.3 947.4,1118.6 Z" fill="url(#dome)"/>
<polygon points="941.6,1198.8 952.4,1198.8 952.4,1184.7 1058.7,1184.7 1058.7,1198.8 1069.5,1198.8 1069.5,1223.7 941.6,1223.7" fill="#f8e3a0" stroke="none" stroke-width="0" />
<rect x="991.9" y="1147.8" width="53.8" height="30.8" rx="0.0" fill="#b88c4c" stroke="none" stroke-width="0" />
<polyline points="1018.6,1147.8 1018.6,1178.6" fill="none" stroke="#2a1a08" stroke-width="1.0" stroke-linejoin="round" stroke-linecap="round" />
<polyline points="987.1,1184.7 987.1,1223.7" fill="none" stroke="#1a1a1a" stroke-width="1.0" stroke-linejoin="round" stroke-linecap="round" />
<polyline points="1023.3,1184.7 1023.3,1223.7" fill="none" stroke="#1a1a1a" stroke-width="1.0" stroke-linejoin="round" stroke-linecap="round" />
<polyline points="950.2,1198.8 950.2,1223.7" fill="none" stroke="#1a1a1a" stroke-width="0.9" stroke-linejoin="round" stroke-linecap="round" />
<polyline points="1061.9,1198.8 1061.9,1223.7" fill="none" stroke="#1a1a1a" stroke-width="0.9" stroke-linejoin="round" stroke-linecap="round" />
<polyline points="966.5,1211.4 1044.6,1211.4" fill="none" stroke="#1a1a1a" stroke-width="0.8" stroke-linejoin="round" stroke-linecap="round" />
<polyline points="941.6,1224.0 1069.5,1224.0" fill="none" stroke="#1a1a1a" stroke-width="1.0" stroke-linejoin="round" stroke-linecap="round" />
<g transform="translate(964.3,1145.2) rotate(-35.0)"><path d="M-13.0,11.7 L13.0,11.7 L13.0,-1.3 C13.0,-16.1 -13.0,-16.1 -13.0,-1.3 Z" fill="#f8e3a0" stroke="#1a1a1a" stroke-width="0.9"/><path d="M10.4,11.7 L10.4,-0.5 C10.4,-12.5 -10.4,-12.5 -10.4,-0.5 L-10.4,11.7" fill="none" stroke="#3a3322" stroke-width="0.6"/></g>
<polygon points="1022.5,1123.3 1027.2,1120.7 1051.1,1123.3 1045.7,1136.3 1026.1,1129.8" fill="#f8e3a0" stroke="#1a1a1a" stroke-width="0.8" />
<path d="M1033.3,1119.2 L1033.3,1149.3" stroke="#e3262b" stroke-width="1.4"/>
<path d="M1033.3,1114.2 l-3.4,12 h6.8 Z M1033.3,1154.3 l-3.4,-12 h6.8 Z" fill="#e3262b"/>
<polygon points="877.6,576.0 1133.5,576.0 1116.1,718.1 1079.3,728.9 1022.9,736.5 1017.5,733.3 1013.1,724.6 1005.5,721.3 998.0,724.6 993.6,733.3 988.2,736.5 931.8,728.9 894.9,718.1" fill="url(#net)" stroke="none" stroke-width="0" />
<path d="M1005.5,486.5 C1004.7,486.5 1001.5,494.6 1000.8,496.9 C1000.0,499.2 997.4,510.1 996.9,514.2 C996.4,518.4 994.8,540.4 994.7,546.7 C994.6,553.1 995.0,575.8 995.1,590.1 C995.2,604.5 994.1,708.4 995.8,719.2 C997.5,729.9 1013.7,729.9 1015.3,719.2 C1016.9,708.4 1015.5,604.5 1015.5,590.1 C1015.6,575.8 1016.1,553.1 1016.0,546.7 C1015.8,540.4 1014.7,518.4 1014.2,514.2 C1013.7,510.1 1011.0,499.2 1010.3,496.9 C1009.6,494.6 1006.3,486.5 1005.5,486.5 Z" fill="#ffffff" stroke="#1a1a1a" stroke-width="1.1" stroke-linejoin="round" stroke-linecap="round" />
<polyline points="999.5,590.1 999.5,719.2" fill="none" stroke="#999" stroke-width="0.4" stroke-linejoin="round" stroke-linecap="round" />
<polyline points="1011.6,590.1 1011.6,719.2" fill="none" stroke="#999" stroke-width="0.4" stroke-linejoin="round" stroke-linecap="round" />
<rect x="841.8" y="671.4" width="34.0" height="33.6" rx="1.5" fill="#cfe4f6" stroke="#cfd3dc" stroke-width="0.9" />
<rect x="1135.2" y="671.4" width="34.0" height="33.6" rx="1.5" fill="#cfe4f6" stroke="#cfd3dc" stroke-width="0.9"/>
<rect x="826.0" y="850.7" width="21.7" height="21.0" rx="1.5" fill="#cfe4f6" stroke="#cfd3dc" stroke-width="0.9" />
<rect x="1163.4" y="850.7" width="21.7" height="21.0" rx="1.5" fill="#cfe4f6" stroke="#cfd3dc" stroke-width="0.9"/>
<rect x="827.7" y="920.0" width="17.3" height="13.4" rx="1.5" fill="#cfe4f6" stroke="#cfd3dc" stroke-width="0.9" />
<rect x="1166.0" y="920.0" width="17.3" height="13.4" rx="1.5" fill="#cfe4f6" stroke="#cfd3dc" stroke-width="0.9"/>
<rect x="847.7" y="1057.1" width="21.7" height="21.7" rx="1.5" fill="#cfe4f6" stroke="#cfd3dc" stroke-width="0.9" />
<rect x="1141.7" y="1057.1" width="21.7" height="21.7" rx="1.5" fill="#cfe4f6" stroke="#cfd3dc" stroke-width="0.9"/>
<rect x="849.8" y="1118.1" width="18.0" height="13.4" rx="1.5" fill="#cfe4f6" stroke="#cfd3dc" stroke-width="0.9" />
<rect x="1143.3" y="1118.1" width="18.0" height="13.4" rx="1.5" fill="#cfe4f6" stroke="#cfd3dc" stroke-width="0.9"/>
<rect x="904.7" y="737.2" width="41.9" height="23.2" rx="2.5" fill="#ffffff" stroke="#d6d0d6" stroke-width="1.0" />
<rect x="1064.5" y="737.2" width="41.9" height="23.2" rx="2.5" fill="#ffffff" stroke="#d6d0d6" stroke-width="1.0"/>
<rect x="866.3" y="986.0" width="29.7" height="15.2" rx="0.0" fill="#f2c97b" stroke="#e9d9b0" stroke-width="0.4" />
<rect x="1115.1" y="986.0" width="29.7" height="15.2" rx="0.0" fill="#f2c97b" stroke="#e9d9b0" stroke-width="0.4"/>
<path d="M857.4,484.9 C857.2,486.9 856.7,492.0 855.9,496.9 C855.1,501.7 854.8,502.3 852.7,514.2 C850.5,526.1 846.0,548.6 842.9,568.4 C839.8,588.3 836.9,611.8 834.2,633.5 C831.5,655.2 828.8,678.7 826.6,698.6 C824.5,718.4 822.8,733.5 821.2,752.8 C819.6,772.0 818.1,794.9 816.9,814.2 C815.6,833.5 814.4,848.6 813.6,868.4 C812.8,888.3 812.5,908.2 812.1,933.5 C811.7,958.8 812.1,995.5 811.4,1020.2 C810.8,1044.9 808.7,1057.0 808.2,1081.7 C807.7,1106.4 808.1,1139.5 808.4,1168.4 C808.7,1197.3 809.2,1235.3 809.9,1255.2 C810.6,1275.1 811.4,1279.6 812.5,1287.7 C813.7,1295.8 814.7,1299.3 816.9,1304.0 C819.0,1308.6 821.6,1312.6 825.5,1315.5 C829.5,1318.4 838.2,1320.4 840.7,1321.3" fill="none" stroke="#1a1a1a" stroke-width="1.2" stroke-linejoin="round" stroke-linecap="round" />
<path d="M1153.7,484.9 C1153.9,486.9 1154.4,492.0 1155.2,496.9 C1156.0,501.7 1156.3,502.3 1158.4,514.2 C1160.6,526.1 1165.1,548.6 1168.2,568.4 C1171.3,588.3 1174.2,611.8 1176.9,633.5 C1179.6,655.2 1182.3,678.7 1184.5,698.6 C1186.6,718.4 1188.3,733.5 1189.9,752.8 C1191.5,772.0 1193.0,794.9 1194.2,814.2 C1195.5,833.5 1196.7,848.6 1197.5,868.4 C1198.3,888.3 1198.6,908.2 1199.0,933.5 C1199.4,958.8 1199.0,995.5 1199.6,1020.2 C1200.3,1044.9 1202.4,1057.0 1202.9,1081.7 C1203.4,1106.4 1203.0,1139.5 1202.7,1168.4 C1202.4,1197.3 1201.8,1235.3 1201.2,1255.2 C1200.5,1275.1 1199.7,1279.6 1198.6,1287.7 C1197.4,1295.8 1196.4,1299.3 1194.2,1304.0 C1192.0,1308.6 1189.5,1312.6 1185.5,1315.5 C1181.6,1318.4 1172.9,1320.4 1170.4,1321.3" fill="none" stroke="#1a1a1a" stroke-width="1.2" stroke-linejoin="round" stroke-linecap="round" />
<path d="M860.9,484.9 C861.1,486.9 861.6,492.0 862.4,496.9 C863.2,501.7 863.7,503.0 865.7,514.2 C867.7,525.4 871.4,544.2 874.3,564.1 C877.2,584.0 880.3,612.9 883.0,633.5 C885.7,654.1 888.6,673.6 890.6,687.7 C892.6,701.8 893.7,709.0 894.9,718.1 C896.2,727.1 897.1,732.9 898.2,741.9 C899.3,751.0 900.9,767.2 901.4,772.3" fill="none" stroke="#1a1a1a" stroke-width="1.2" stroke-linejoin="round" stroke-linecap="round" />
<path d="M1150.2,484.9 C1149.9,486.9 1149.5,492.0 1148.7,496.9 C1147.9,501.7 1147.4,503.0 1145.4,514.2 C1143.4,525.4 1139.6,544.2 1136.7,564.1 C1133.9,584.0 1130.8,612.9 1128.1,633.5 C1125.4,654.1 1122.5,673.6 1120.5,687.7 C1118.5,701.8 1117.4,709.0 1116.1,718.1 C1114.9,727.1 1114.0,732.9 1112.9,741.9 C1111.8,751.0 1110.2,767.2 1109.6,772.3" fill="none" stroke="#1a1a1a" stroke-width="1.2" stroke-linejoin="round" stroke-linecap="round" />
<path d="M857.5,485.0 a1.7,1.7 0 0 1 3.4,0" fill="none" stroke="#1a1a1a" stroke-width="1.2"/>
<path d="M1150.2,485.0 a1.7,1.7 0 0 1 3.4,0" fill="none" stroke="#1a1a1a" stroke-width="1.2"/>
<polyline points="876.5,565.8 1134.6,565.8" fill="none" stroke="#1a1a1a" stroke-width="0.9" stroke-linejoin="round" stroke-linecap="round" />
<polyline points="877.6,576.0 1133.5,576.0" fill="none" stroke="#1a1a1a" stroke-width="1.1" stroke-linejoin="round" stroke-linecap="round" />
<polyline points="877.6,572.8 983.9,574.9" fill="none" stroke="#777" stroke-width="0.4" stroke-linejoin="round" stroke-linecap="round" />
<polyline points="1133.5,572.8 1027.2,574.9" fill="none" stroke="#777" stroke-width="0.4" stroke-linejoin="round" stroke-linecap="round" />
<path d="M894.9,718.1 C901.1,719.9 916.3,725.8 931.8,728.9 C947.3,732.0 977.9,735.8 988.2,736.5 C998.5,737.2 992.0,735.2 993.6,733.3 C995.2,731.3 996.0,727.0 998.0,725.0 C999.9,723.0 1004.3,721.9 1005.5,721.3" fill="none" stroke="#1a1a1a" stroke-width="1.1" stroke-linejoin="round" stroke-linecap="round" />
<path d="M1116.1,718.1 C1110.0,719.9 1094.8,725.8 1079.3,728.9 C1063.7,732.0 1033.2,735.8 1022.9,736.5 C1012.6,737.2 1019.1,735.2 1017.5,733.3 C1015.8,731.3 1015.1,727.0 1013.1,725.0 C1011.1,723.0 1006.8,721.9 1005.5,721.3" fill="none" stroke="#1a1a1a" stroke-width="1.1" stroke-linejoin="round" stroke-linecap="round" />
<polygon points="983.9,567.3 1027.2,567.3 1027.2,574.9 1017.5,574.9 1005.5,586.2 993.6,574.9 983.9,574.9" fill="#ffffff" stroke="#1a1a1a" stroke-width="0.9" />
<polyline points="993.6,568.0 1005.5,579.7 1017.5,568.0" fill="none" stroke="#1a1a1a" stroke-width="2.2" stroke-linejoin="round" stroke-linecap="round" />
<circle cx="1005.5" cy="500.1" r="3.7" fill="#141414"/>
<circle cx="1005.5" cy="573.9" r="4.1" fill="#141414"/>
<circle cx="1005.5" cy="664.9" r="4.1" fill="#141414"/>
<circle cx="1009.4" cy="600.3" r="1.7" fill="#141414"/>
<circle cx="1006.6" cy="605.7" r="1.7" fill="#141414"/>
<circle cx="1002.3" cy="690.3" r="1.7" fill="#141414"/>
<circle cx="999.7" cy="695.7" r="1.7" fill="#141414"/>
<circle cx="859.2" cy="537.6" r="2.3" fill="#222"/><circle cx="1151.9" cy="537.6" r="2.3" fill="#222"/>
<rect x="847.2" y="551.1" width="3.0" height="10.8" rx="0.0" fill="#fff" stroke="#1a1a1a" stroke-width="0.6" />
<rect x="1160.8" y="551.1" width="3.0" height="10.8" rx="0.0" fill="#fff" stroke="#1a1a1a" stroke-width="0.6"/>
<rect x="867.2" y="550.7" width="3.0" height="10.8" rx="0.0" fill="#fff" stroke="#1a1a1a" stroke-width="0.6" />
<rect x="1140.9" y="550.7" width="3.0" height="10.8" rx="0.0" fill="#fff" stroke="#1a1a1a" stroke-width="0.6"/>
<rect x="845.1" y="574.9" width="2.4" height="4.3" rx="0.0" fill="#fff" stroke="#1a1a1a" stroke-width="0.6" />
<rect x="1163.6" y="574.9" width="2.4" height="4.3" rx="0.0" fill="#fff" stroke="#1a1a1a" stroke-width="0.6"/>
<polyline points="894.9,718.1 899.3,772.3" fill="none" stroke="#1a1a1a" stroke-width="0.9" stroke-linejoin="round" stroke-linecap="round" />
<polyline points="1116.1,718.1 1111.8,772.3" fill="none" stroke="#1a1a1a" stroke-width="0.9" stroke-linejoin="round" stroke-linecap="round" />
<path d="M876.5,780.6 C882.1,779.0 897.3,773.7 910.1,770.8 C923.0,768.0 937.6,764.9 953.5,763.3 C969.4,761.6 996.9,761.3 1005.5,760.9" fill="none" stroke="#1a1a1a" stroke-width="2.6" stroke-linejoin="round" stroke-linecap="round" />
<path d="M1134.6,780.6 C1129.0,779.0 1113.8,773.7 1101.0,770.8 C1088.1,768.0 1073.5,764.9 1057.6,763.3 C1041.7,761.6 1014.2,761.3 1005.5,760.9" fill="none" stroke="#1a1a1a" stroke-width="2.6" stroke-linejoin="round" stroke-linecap="round" />
<path d="M876.5,780.6 C882.1,779.0 897.3,773.7 910.1,770.8 C923.0,768.0 937.6,764.9 953.5,763.3 C969.4,761.6 996.9,761.3 1005.5,760.9" fill="none" stroke="#ffffff" stroke-width="0.7" stroke-linejoin="round" stroke-linecap="round" stroke-dasharray="2 2.2"/>
<path d="M1134.6,780.6 C1129.0,779.0 1113.8,773.7 1101.0,770.8 C1088.1,768.0 1073.5,764.9 1057.6,763.3 C1041.7,761.6 1014.2,761.3 1005.5,760.9" fill="none" stroke="#ffffff" stroke-width="0.7" stroke-linejoin="round" stroke-linecap="round" stroke-dasharray="2 2.2"/>
<path d="M876.5,780.6 C875.2,782.6 871.6,785.1 868.9,792.5 C866.2,799.9 863.1,812.4 860.2,825.1 C857.3,837.7 853.7,854.0 851.6,868.4 C849.5,882.9 848.4,899.2 847.7,911.8 C846.9,924.5 846.8,933.5 847.2,944.3 C847.7,955.2 849.6,966.0 850.5,976.9 C851.4,987.7 851.9,999.3 852.7,1009.4 C853.4,1019.5 854.5,1032.9 854.8,1037.6" fill="none" stroke="#1a1a1a" stroke-width="2.0" stroke-linejoin="round" stroke-linecap="round" />
<path d="M1134.6,780.6 C1135.8,782.6 1139.5,785.1 1142.2,792.5 C1144.9,799.9 1148.0,812.4 1150.8,825.1 C1153.7,837.7 1157.4,854.0 1159.5,868.4 C1161.6,882.9 1162.7,899.2 1163.4,911.8 C1164.1,924.5 1164.3,933.5 1163.9,944.3 C1163.4,955.2 1161.5,966.0 1160.6,976.9 C1159.7,987.7 1159.2,999.3 1158.4,1009.4 C1157.7,1019.5 1156.6,1032.9 1156.3,1037.6" fill="none" stroke="#1a1a1a" stroke-width="2.0" stroke-linejoin="round" stroke-linecap="round" />
<path d="M854.8,1037.6 C855.3,1037.7 856.7,1038.9 857.6,1038.5 C858.6,1038.0 860.2,1035.6 860.7,1035.0" fill="none" stroke="#1a1a1a" stroke-width="1.3" stroke-linejoin="round" stroke-linecap="round" />
<path d="M1156.3,1037.6 C1155.8,1037.7 1154.4,1038.9 1153.4,1038.5 C1152.5,1038.0 1150.9,1035.6 1150.4,1035.0" fill="none" stroke="#1a1a1a" stroke-width="1.3" stroke-linejoin="round" stroke-linecap="round" />
<path d="M860.7,1035.0 C861.1,1033.0 862.4,1024.5 863.5,1020.2 C864.6,1016.0 868.9,1005.8 868.9,1002.9 C868.9,1000.0 864.5,1002.0 863.5,998.6 C862.5,995.1 861.4,982.5 861.1,976.9 C860.8,971.2 859.8,960.0 861.1,956.3 C862.4,952.6 866.3,950.5 871.1,949.1 C875.9,947.7 892.3,946.0 897.1,946.1 C901.9,946.2 905.0,948.0 906.9,949.8 C908.7,951.6 910.3,955.9 911.2,959.5 C912.1,963.1 913.1,969.3 913.4,976.9 C913.7,984.4 913.8,1008.7 913.4,1015.9 C912.9,1023.1 911.7,1027.3 910.1,1031.1 C908.5,1034.8 904.3,1040.3 901.4,1044.1 C898.6,1047.9 891.0,1056.1 888.4,1059.3 C885.8,1062.5 883.2,1065.1 881.9,1068.0 C880.6,1070.8 879.3,1076.7 878.7,1081.0 C878.1,1085.2 877.7,1100.0 877.6,1100.0 C877.4,1100.1 877.2,1078.4 877.6,1081.7 C878.0,1085.0 879.7,1112.9 880.8,1125.1 C882.0,1137.2 885.0,1165.0 886.3,1172.8 C887.6,1180.6 888.6,1181.4 890.6,1183.6 C892.6,1185.8 896.0,1187.6 901.4,1189.0 C906.9,1190.5 925.0,1193.4 931.8,1194.5 C938.6,1195.5 949.7,1196.7 952.4,1197.1" fill="none" stroke="#1a1a1a" stroke-width="1.5" stroke-linejoin="round" stroke-linecap="round" />
<path d="M1150.4,1035.0 C1150.0,1033.0 1148.7,1024.5 1147.6,1020.2 C1146.5,1016.0 1142.2,1005.8 1142.2,1002.9 C1142.2,1000.0 1146.6,1002.0 1147.6,998.6 C1148.6,995.1 1149.7,982.5 1150.0,976.9 C1150.3,971.2 1151.3,960.0 1150.0,956.3 C1148.6,952.6 1144.8,950.5 1140.0,949.1 C1135.2,947.7 1118.7,946.0 1114.0,946.1 C1109.2,946.2 1106.1,948.0 1104.2,949.8 C1102.3,951.6 1100.7,955.9 1099.9,959.5 C1099.0,963.1 1098.0,969.3 1097.7,976.9 C1097.4,984.4 1097.3,1008.7 1097.7,1015.9 C1098.1,1023.1 1099.4,1027.3 1101.0,1031.1 C1102.6,1034.8 1106.7,1040.3 1109.6,1044.1 C1112.5,1047.9 1120.0,1056.1 1122.7,1059.3 C1125.3,1062.5 1127.9,1065.1 1129.2,1068.0 C1130.5,1070.8 1131.8,1076.7 1132.4,1081.0 C1133.0,1085.2 1133.4,1100.0 1133.5,1100.0 C1133.6,1100.1 1133.9,1078.4 1133.5,1081.7 C1133.1,1085.0 1131.4,1112.9 1130.2,1125.1 C1129.1,1137.2 1126.1,1165.0 1124.8,1172.8 C1123.5,1180.6 1122.5,1181.4 1120.5,1183.6 C1118.5,1185.8 1115.1,1187.6 1109.6,1189.0 C1104.1,1190.5 1086.1,1193.4 1079.3,1194.5 C1072.5,1195.5 1061.4,1196.7 1058.7,1197.1" fill="none" stroke="#1a1a1a" stroke-width="1.5" stroke-linejoin="round" stroke-linecap="round" />
<polyline points="952.4,1197.1 947.4,1119.0" fill="none" stroke="#1a1a1a" stroke-width="1.3" stroke-linejoin="round" stroke-linecap="round" />
<polyline points="1058.7,1197.1 1063.7,1119.0" fill="none" stroke="#1a1a1a" stroke-width="1.3" stroke-linejoin="round" stroke-linecap="round" />
<path d="M947.0,1068.0 C948.1,1052.8 975.2,1043.0 1005.5,1041.9 C1035.9,1043.0 1063.0,1052.8 1064.1,1068.0" fill="none" stroke="#1a1a1a" stroke-width="1.4"/>
<polyline points="947.0,1068.0 947.0,1100.0" fill="none" stroke="#1a1a1a" stroke-width="1.3" stroke-linejoin="round" stroke-linecap="round" />
<polyline points="1064.1,1068.0 1064.1,1100.0" fill="none" stroke="#1a1a1a" stroke-width="1.3" stroke-linejoin="round" stroke-linecap="round" />
<path d="M947.4,1118.6 C952.0,1119.1 965.5,1121.3 975.2,1122.0 C984.9,1122.7 995.4,1122.9 1005.5,1122.9 C1015.7,1122.9 1026.2,1122.8 1035.9,1122.0 C1045.6,1121.2 1059.0,1118.8 1063.7,1118.1" fill="none" stroke="#1a1a1a" stroke-width="1.6" stroke-linejoin="round" stroke-linecap="round" />
<path d="M951.3,1061.0 C960.4,1060.6 987.5,1058.4 1005.5,1058.4 C1023.6,1058.4 1050.7,1060.6 1059.8,1061.0" fill="none" stroke="#9a9da0" stroke-width="0.9" stroke-linejoin="round" stroke-linecap="round" />
<path d="M948.1,1087.1 C957.7,1087.6 986.4,1089.9 1005.5,1089.9 C1024.7,1089.9 1053.4,1087.6 1063.0,1087.1" fill="none" stroke="#9a9da0" stroke-width="0.9" stroke-linejoin="round" stroke-linecap="round" />
<polyline points="864.6,968.6 912.7,968.6" fill="none" stroke="#999" stroke-width="0.5" stroke-linejoin="round" stroke-linecap="round" />
<polyline points="1146.5,968.6 1098.4,968.6" fill="none" stroke="#999" stroke-width="0.5" stroke-linejoin="round" stroke-linecap="round" />
<polyline points="870.0,968.6 870.0,985.5" fill="none" stroke="#bbb" stroke-width="0.4" stroke-linejoin="round" stroke-linecap="round" />
<polyline points="1141.1,968.6 1141.1,985.5" fill="none" stroke="#bbb" stroke-width="0.4" stroke-linejoin="round" stroke-linecap="round" />
<path d="M1005.5,928.7 C1003.5,928.7 1000.6,934.9 999.5,937.8 C998.4,940.8 998.6,943.6 999.0,946.5 C999.5,949.4 1001.6,951.9 1002.3,955.2 C1003.0,958.4 1002.5,964.2 1003.4,966.0 C1004.3,967.8 1006.8,967.8 1007.7,966.0 C1008.6,964.2 1008.1,958.4 1008.8,955.2 C1009.5,951.9 1011.6,949.4 1012.0,946.5 C1012.5,943.6 1012.7,940.8 1011.6,937.8 C1010.5,934.9 1007.6,928.7 1005.5,928.7 Z" fill="#fff" stroke="#1a1a1a" stroke-width="0.9" stroke-linejoin="round" stroke-linecap="round" />
<path d="M1005.5,933.5 C1004.5,933.5 1002.3,938.6 1002.3,941.1 C1002.3,943.6 1004.5,948.7 1005.5,948.7 C1006.6,948.7 1008.8,943.6 1008.8,941.1 C1008.8,938.6 1006.6,933.5 1005.5,933.5 Z" fill="none" stroke="#999" stroke-width="0.4" stroke-linejoin="round" stroke-linecap="round" />
<polyline points="995.8,943.3 923.1,962.8" fill="none" stroke="#1a1a1a" stroke-width="3.4" stroke-linejoin="round" stroke-linecap="round" />
<polyline points="1015.3,943.3 1088.0,962.8" fill="none" stroke="#1a1a1a" stroke-width="3.4" stroke-linejoin="round" stroke-linecap="round" />
<polyline points="995.8,943.3 923.1,962.8" fill="none" stroke="#fff" stroke-width="1.0" stroke-linejoin="round" stroke-linecap="round" stroke-dasharray="1.6 1.8"/>
<polyline points="1015.3,943.3 1088.0,962.8" fill="none" stroke="#fff" stroke-width="1.0" stroke-linejoin="round" stroke-linecap="round" stroke-dasharray="1.6 1.8"/>
<polyline points="944.8,956.3 923.1,962.8" fill="none" stroke="#1a1a1a" stroke-width="3.6" stroke-linejoin="round" stroke-linecap="round" />
<polyline points="1066.3,956.3 1088.0,962.8" fill="none" stroke="#1a1a1a" stroke-width="3.6" stroke-linejoin="round" stroke-linecap="round" />
<polyline points="936.1,964.9 1074.9,964.9" fill="none" stroke="#999" stroke-width="0.4" stroke-linejoin="round" stroke-linecap="round" />
<rect x="969.6" y="962.8" width="2.4" height="3" fill="#111"/>
<rect x="1038.0" y="962.8" width="2.4" height="3" fill="#111"/>
<rect x="1001.5" y="966.1" width="8" height="2" fill="#111"/>
<circle cx="857.0" cy="945.4" r="6.6" fill="#fff" stroke="#111" stroke-width="1.3"/><circle cx="857.0" cy="945.4" r="4.2" fill="none" stroke="#111" stroke-width="0.9"/><circle cx="857.0" cy="945.4" r="2" fill="#333"/>
<circle cx="1154.1" cy="945.4" r="6.6" fill="#fff" stroke="#111" stroke-width="1.3"/><circle cx="1154.1" cy="945.4" r="4.2" fill="none" stroke="#111" stroke-width="0.9"/><circle cx="1154.1" cy="945.4" r="2" fill="#333"/>
<circle cx="918.8" cy="958.4" r="6.6" fill="#fff" stroke="#111" stroke-width="1.3"/><circle cx="918.8" cy="958.4" r="4.2" fill="none" stroke="#111" stroke-width="0.9"/><circle cx="918.8" cy="958.4" r="2" fill="#333"/>
<circle cx="1092.3" cy="958.4" r="6.6" fill="#fff" stroke="#111" stroke-width="1.3"/><circle cx="1092.3" cy="958.4" r="4.2" fill="none" stroke="#111" stroke-width="0.9"/><circle cx="1092.3" cy="958.4" r="2" fill="#333"/>
<polyline points="936.1,822.9 915.5,919.4 864.6,946.5" fill="none" stroke="#b5b5b5" stroke-width="0.5" stroke-linejoin="round" stroke-linecap="round" />
<polyline points="1074.9,822.9 1095.5,919.4 1146.5,946.5" fill="none" stroke="#b5b5b5" stroke-width="0.5" stroke-linejoin="round" stroke-linecap="round" />
<circle cx="915.5" cy="919.4" r="1.9" fill="#111"/><circle cx="1095.5" cy="919.4" r="1.9" fill="#111"/>
<path d="M824.5,1198.8 C832.2,1196.6 862.7,1189.1 871.1,1185.8 C879.4,1182.5 874.2,1180.5 874.6,1178.8 C874.9,1177.2 873.5,1176.5 873.3,1176.0" fill="none" stroke="#777" stroke-width="0.6" stroke-linejoin="round" stroke-linecap="round" />
<path d="M1186.6,1198.8 C1178.9,1196.6 1148.4,1189.1 1140.0,1185.8 C1131.7,1182.5 1136.9,1180.5 1136.5,1178.8 C1136.2,1177.2 1137.6,1176.5 1137.8,1176.0" fill="none" stroke="#777" stroke-width="0.6" stroke-linejoin="round" stroke-linecap="round" />
<path d="M823.8,1192.7 C831.5,1190.7 861.8,1183.3 870.0,1180.6 C878.2,1177.8 872.7,1177.0 873.3,1176.2" fill="none" stroke="#777" stroke-width="0.6" stroke-linejoin="round" stroke-linecap="round" />
<path d="M1187.3,1192.7 C1179.6,1190.7 1149.3,1183.3 1141.1,1180.6 C1132.8,1177.8 1138.4,1177.0 1137.8,1176.2" fill="none" stroke="#777" stroke-width="0.6" stroke-linejoin="round" stroke-linecap="round" />
<path d="M886.3,1172.8 C884.5,1173.2 877.7,1174.5 871.1,1176.0 C864.5,1177.5 835.4,1183.6 829.9,1185.8 C824.3,1187.9 824.3,1191.4 823.4,1194.5 C822.5,1197.5 822.4,1209.8 822.3,1211.8" fill="none" stroke="#1a1a1a" stroke-width="1.1" stroke-linejoin="round" stroke-linecap="round" />
<path d="M1124.8,1172.8 C1126.6,1173.2 1133.4,1174.5 1140.0,1176.0 C1146.6,1177.5 1175.6,1183.6 1181.2,1185.8 C1186.8,1187.9 1186.8,1191.4 1187.7,1194.5 C1188.6,1197.5 1188.7,1209.8 1188.8,1211.8" fill="none" stroke="#1a1a1a" stroke-width="1.1" stroke-linejoin="round" stroke-linecap="round" />
<path d="M822.3,1211.8 C822.5,1219.0 822.7,1244.3 823.4,1255.2 C824.1,1266.0 825.8,1269.6 826.6,1276.9 C827.4,1284.1 826.9,1292.4 828.1,1298.6 C829.4,1304.7 831.8,1310.2 834.2,1313.7 C836.7,1317.2 841.4,1318.6 842.9,1319.6" fill="none" stroke="#1a1a1a" stroke-width="0.8" stroke-linejoin="round" stroke-linecap="round" />
<path d="M1188.8,1211.8 C1188.6,1219.0 1188.4,1244.3 1187.7,1255.2 C1187.0,1266.0 1185.3,1269.6 1184.5,1276.9 C1183.7,1284.1 1184.2,1292.4 1182.9,1298.6 C1181.7,1304.7 1179.3,1310.2 1176.9,1313.7 C1174.4,1317.2 1169.6,1318.6 1168.2,1319.6" fill="none" stroke="#1a1a1a" stroke-width="0.8" stroke-linejoin="round" stroke-linecap="round" />
<path d="M893.9,1256.3 C894.0,1259.7 895.8,1271.3 894.9,1276.9 C894.0,1282.5 890.4,1286.3 888.4,1289.9 C886.4,1293.5 884.2,1293.7 883.0,1298.6 C881.9,1303.4 881.7,1315.7 881.5,1319.2" fill="none" stroke="#1a1a1a" stroke-width="0.8" stroke-linejoin="round" stroke-linecap="round" />
<path d="M1117.2,1256.3 C1117.0,1259.7 1115.2,1271.3 1116.1,1276.9 C1117.0,1282.5 1120.7,1286.3 1122.7,1289.9 C1124.6,1293.5 1126.9,1293.7 1128.1,1298.6 C1129.2,1303.4 1129.3,1315.7 1129.6,1319.2" fill="none" stroke="#1a1a1a" stroke-width="0.8" stroke-linejoin="round" stroke-linecap="round" />
<path d="M840.7,1321.3 C848.0,1321.2 875.8,1321.6 884.1,1320.7 C892.4,1319.8 889.5,1319.2 890.6,1315.9 C891.7,1312.7 889.5,1304.8 890.6,1301.2 C891.7,1297.5 894.7,1298.3 897.1,1294.2 C899.6,1290.2 904.1,1283.2 905.3,1276.9 C906.6,1270.5 904.8,1259.7 904.7,1256.3" fill="none" stroke="#1a1a1a" stroke-width="1.1" stroke-linejoin="round" stroke-linecap="round" />
<path d="M1170.4,1321.3 C1163.1,1321.2 1135.3,1321.6 1127.0,1320.7 C1118.7,1319.8 1121.6,1319.2 1120.5,1315.9 C1119.4,1312.7 1121.6,1304.8 1120.5,1301.2 C1119.4,1297.5 1116.4,1298.3 1114.0,1294.2 C1111.5,1290.2 1107.0,1283.2 1105.7,1276.9 C1104.5,1270.5 1106.3,1259.7 1106.4,1256.3" fill="none" stroke="#1a1a1a" stroke-width="1.1" stroke-linejoin="round" stroke-linecap="round" />
<polyline points="826.6,1264.9 891.7,1264.9" fill="none" stroke="#b5ada0" stroke-width="0.5" stroke-linejoin="round" stroke-linecap="round" />
<polyline points="1184.5,1264.9 1119.4,1264.9" fill="none" stroke="#b5ada0" stroke-width="0.5" stroke-linejoin="round" stroke-linecap="round" />
<polyline points="826.6,1273.6 891.0,1273.6" fill="none" stroke="#b5ada0" stroke-width="0.5" stroke-linejoin="round" stroke-linecap="round" />
<polyline points="1184.5,1273.6 1120.0,1273.6" fill="none" stroke="#b5ada0" stroke-width="0.5" stroke-linejoin="round" stroke-linecap="round" />
<polyline points="830.3,1280.8 890.2,1280.8" fill="none" stroke="#b5ada0" stroke-width="0.5" stroke-linejoin="round" stroke-linecap="round" />
<polyline points="1180.8,1280.8 1120.9,1280.8" fill="none" stroke="#b5ada0" stroke-width="0.5" stroke-linejoin="round" stroke-linecap="round" />
<polyline points="833.8,1287.7 888.0,1287.7" fill="none" stroke="#b5ada0" stroke-width="0.5" stroke-linejoin="round" stroke-linecap="round" />
<polyline points="1177.3,1287.7 1123.1,1287.7" fill="none" stroke="#b5ada0" stroke-width="0.5" stroke-linejoin="round" stroke-linecap="round" />
<path d="M1005.5,1225.3 C997.7,1225.3 879.1,1224.9 871.1,1225.3 C863.1,1225.6 868.0,1229.8 867.8,1231.3 C867.6,1232.8 867.6,1249.5 867.8,1250.8 C868.0,1252.2 869.6,1254.9 871.1,1255.2 C872.5,1255.5 890.8,1256.3 892.8,1256.3 C894.7,1256.3 903.8,1255.5 904.7,1255.2 C905.6,1254.9 902.1,1251.2 908.0,1250.8 C913.8,1250.5 999.8,1249.2 1005.5,1249.1 C1011.2,1249.0 999.8,1249.0 1005.5,1249.1 C1011.2,1249.2 1097.3,1250.5 1103.1,1250.8 C1109.0,1251.2 1105.5,1254.9 1106.4,1255.2 C1107.3,1255.5 1116.4,1256.3 1118.3,1256.3 C1120.3,1256.3 1138.5,1255.5 1140.0,1255.2 C1141.5,1254.9 1143.1,1252.2 1143.3,1250.8 C1143.4,1249.5 1143.4,1232.8 1143.3,1231.3 C1143.1,1229.8 1148.0,1225.6 1140.0,1225.3 C1132.0,1224.9 1013.4,1225.3 1005.5,1225.3 C997.7,1225.3 1013.4,1225.3 1005.5,1225.3 Z" fill="#ffffff" stroke="#1a1a1a" stroke-width="1.1" stroke-linejoin="round" stroke-linecap="round" />
<path d="M879.8,1225.3 C879.8,1225.9 879.5,1234.8 879.8,1235.7 C880.0,1236.5 876.8,1239.7 884.1,1240.0 C891.4,1240.3 998.5,1240.0 1005.5,1240.0 C1012.6,1240.0 998.5,1240.0 1005.5,1240.0 C1012.6,1240.0 1119.7,1240.3 1127.0,1240.0 C1134.3,1239.7 1131.1,1236.5 1131.3,1235.7 C1131.6,1234.8 1131.3,1225.9 1131.3,1225.3" fill="none" stroke="#1a1a1a" stroke-width="1.1" stroke-linejoin="round" stroke-linecap="round" />
<polyline points="897.1,1244.3 1114.0,1244.3" fill="none" stroke="#1a1a1a" stroke-width="0.8" stroke-linejoin="round" stroke-linecap="round" />
<polyline points="897.1,1245.6 1114.0,1245.6" fill="none" stroke="#777" stroke-width="0.4" stroke-linejoin="round" stroke-linecap="round" />
<circle cx="875.4" cy="1246.5" r="4.6" fill="#111"/><circle cx="875.4" cy="1246.5" r="2.2" fill="none" stroke="#777" stroke-width="0.6"/>
<circle cx="1135.7" cy="1246.5" r="4.6" fill="#111"/><circle cx="1135.7" cy="1246.5" r="2.2" fill="none" stroke="#777" stroke-width="0.6"/>
<polyline points="829.9,1073.0 818.0,1173.9" fill="none" stroke="#aaa" stroke-width="0.5" stroke-linejoin="round" stroke-linecap="round" />
<polyline points="1181.2,1073.0 1193.1,1173.9" fill="none" stroke="#aaa" stroke-width="0.5" stroke-linejoin="round" stroke-linecap="round" />
<polyline points="794.1,1142.4 808.6,1164.1" fill="none" stroke="#cfcfcf" stroke-width="0.6" stroke-linejoin="round" stroke-linecap="round" />
<polyline points="1217.0,1142.4 1202.5,1164.1" fill="none" stroke="#cfcfcf" stroke-width="0.6" stroke-linejoin="round" stroke-linecap="round" />
<ellipse cx="815.8" cy="1173.9" rx="3" ry="2.2" fill="#111"/><ellipse cx="1195.3" cy="1173.9" rx="3" ry="2.2" fill="#111"/>
<polyline points="819.0,911.8 817.3,924.8 820.1,944.3" fill="none" stroke="#ccc" stroke-width="0.5" stroke-linejoin="round" stroke-linecap="round" />
<polyline points="1192.0,911.8 1193.8,924.8 1191.0,944.3" fill="none" stroke="#ccc" stroke-width="0.5" stroke-linejoin="round" stroke-linecap="round" />
<path d="M1077.1,1263.9 C1075.2,1262.9 1067.1,1255.4 1057.6,1254.1 C1048.0,1252.8 993.0,1249.4 981.7,1250.8 C970.4,1252.3 949.5,1264.9 944.8,1268.2 C940.2,1271.4 936.0,1280.3 935.1,1283.4 C934.1,1286.4 934.1,1295.5 935.1,1298.6 C936.0,1301.6 940.2,1310.9 944.8,1313.7 C949.5,1316.6 970.4,1325.3 981.7,1326.7 C993.0,1328.2 1048.0,1328.7 1057.6,1327.8 C1067.1,1327.0 1075.2,1319.0 1077.1,1318.1" fill="none" stroke="#c9c9c9" stroke-width="0.7" stroke-linejoin="round" stroke-linecap="round" />
<polyline points="1057.6,1254.1 1057.6,1327.8" fill="none" stroke="#c9c9c9" stroke-width="0.6" stroke-linejoin="round" stroke-linecap="round" />
<path d="M1077.1,1263.9 C1075.4,1264.9 1052.8,1276.4 1051.1,1279.0 C1049.4,1281.6 1049.4,1300.3 1051.1,1302.9 C1052.8,1305.5 1075.4,1317.1 1077.1,1318.1" fill="none" stroke="#c9c9c9" stroke-width="0.6" stroke-linejoin="round" stroke-linecap="round" />
<path d="M944.8,1273.6 C946.3,1275.2 952.0,1279.2 953.5,1283.4 C954.9,1287.5 954.9,1294.2 953.5,1298.6 C952.0,1302.9 946.3,1307.6 944.8,1309.4" fill="none" stroke="#c9c9c9" stroke-width="0.6" stroke-linejoin="round" stroke-linecap="round" />
<path d="M981.7,1256.3 C976.6,1259.2 957.5,1268.0 951.3,1273.6 C945.2,1279.2 944.8,1284.3 944.8,1289.9 C944.8,1295.5 945.2,1301.8 951.3,1307.2 C957.5,1312.7 976.6,1319.9 981.7,1322.4" fill="none" stroke="#c9c9c9" stroke-width="0.6" stroke-linejoin="round" stroke-linecap="round" />
<rect x="984.9" y="1279.0" width="30.4" height="23.9" rx="3.0" fill="none" stroke="#c9c9c9" stroke-width="0.6" />
<rect x="1021.2" y="1272.5" width="10.4" height="35.8" rx="0.0" fill="#e4e4e4" stroke="#c9c9c9" stroke-width="0.6" />
<rect x="960.0" y="1285.5" width="19.5" height="10.8" rx="0.0" fill="none" stroke="#c9c9c9" stroke-width="0.5" />
<rect x="1032.7" y="1285.5" width="18.4" height="10.8" rx="0.0" fill="none" stroke="#c9c9c9" stroke-width="0.5" />
<polyline points="976.3,1248.7 976.3,1330.0" fill="none" stroke="#c9c9c9" stroke-width="0.5" stroke-linejoin="round" stroke-linecap="round" />
<polyline points="976.3,1330.0 1077.1,1330.0" fill="none" stroke="#ddd" stroke-width="0.5" stroke-linejoin="round" stroke-linecap="round" />
<circle cx="1150.8" cy="1242.2" r="7" fill="#fff" stroke="#cfcfcf" stroke-width="0.7"/><circle cx="1141.8" cy="1236.2" r="4.5" fill="#fff" stroke="#cfcfcf" stroke-width="0.7"/><circle cx="1159.8" cy="1245.2" r="4" fill="#fff" stroke="#cfcfcf" stroke-width="0.7"/><circle cx="1152.8" cy="1254.2" r="3.5" fill="#fff" stroke="#cfcfcf" stroke-width="0.7"/>
</g>
<line x1="718.7" y1="489" x2="718.7" y2="1325" stroke="#6a6a6a" stroke-width="0.9"/>
<line x1="707.2" y1="490.0" x2="729.9" y2="490.0" stroke="#3a3a3a" stroke-width="1.9"/>
<text class="rl" transform="translate(716.7,487.0) rotate(-90)" x="0" y="0">20</text>
<line x1="707.2" y1="698.5" x2="729.9" y2="698.5" stroke="#3a3a3a" stroke-width="0.9"/>
<text class="rl" transform="translate(716.7,695.5) rotate(-90)" x="0" y="0">15</text>
<line x1="707.2" y1="907.0" x2="729.9" y2="907.0" stroke="#3a3a3a" stroke-width="1.9"/>
<text class="rl" transform="translate(716.7,904.0) rotate(-90)" x="0" y="0">10</text>
<line x1="707.2" y1="1115.5" x2="729.9" y2="1115.5" stroke="#3a3a3a" stroke-width="0.9"/>
<text class="rl" transform="translate(716.7,1112.5) rotate(-90)" x="0" y="0">5</text>
<line x1="707.2" y1="1157.2" x2="729.9" y2="1157.2" stroke="#3a3a3a" stroke-width="1.9"/>
<text class="rl" transform="translate(716.7,1154.2) rotate(-90)" x="0" y="0">4</text>
<line x1="707.2" y1="1198.9" x2="729.9" y2="1198.9" stroke="#3a3a3a" stroke-width="0.9"/>
<text class="rl" transform="translate(716.7,1195.9) rotate(-90)" x="0" y="0">3</text>
<line x1="707.2" y1="1240.6" x2="729.9" y2="1240.6" stroke="#3a3a3a" stroke-width="0.9"/>
<text class="rl" transform="translate(716.7,1237.6) rotate(-90)" x="0" y="0">2</text>
<line x1="707.2" y1="1282.3" x2="729.9" y2="1282.3" stroke="#3a3a3a" stroke-width="1.9"/>
<text class="rl" transform="translate(716.7,1279.3) rotate(-90)" x="0" y="0">1</text>
<line x1="707.2" y1="1324.0" x2="729.9" y2="1324.0" stroke="#3a3a3a" stroke-width="1.9"/>
<text class="rl" transform="translate(716.7,1321.0) rotate(-90)" x="0" y="0">0 m</text>
<line x1="1275.3" y1="489" x2="1275.3" y2="1325" stroke="#6a6a6a" stroke-width="0.9"/>
<line x1="1263.8" y1="490.0" x2="1286.5" y2="490.0" stroke="#3a3a3a" stroke-width="1.9"/>
<text class="rl" transform="translate(1273.3,487.0) rotate(-90)" x="0" y="0">20</text>
<line x1="1263.8" y1="698.5" x2="1286.5" y2="698.5" stroke="#3a3a3a" stroke-width="0.9"/>
<text class="rl" transform="translate(1273.3,695.5) rotate(-90)" x="0" y="0">15</text>
<line x1="1263.8" y1="907.0" x2="1286.5" y2="907.0" stroke="#3a3a3a" stroke-width="1.9"/>
<text class="rl" transform="translate(1273.3,904.0) rotate(-90)" x="0" y="0">10</text>
<line x1="1263.8" y1="1115.5" x2="1286.5" y2="1115.5" stroke="#3a3a3a" stroke-width="0.9"/>
<text class="rl" transform="translate(1273.3,1112.5) rotate(-90)" x="0" y="0">5</text>
<line x1="1263.8" y1="1157.2" x2="1286.5" y2="1157.2" stroke="#3a3a3a" stroke-width="1.9"/>
<text class="rl" transform="translate(1273.3,1154.2) rotate(-90)" x="0" y="0">4</text>
<line x1="1263.8" y1="1198.9" x2="1286.5" y2="1198.9" stroke="#3a3a3a" stroke-width="0.9"/>
<text class="rl" transform="translate(1273.3,1195.9) rotate(-90)" x="0" y="0">3</text>
<line x1="1263.8" y1="1240.6" x2="1286.5" y2="1240.6" stroke="#3a3a3a" stroke-width="0.9"/>
<text class="rl" transform="translate(1273.3,1237.6) rotate(-90)" x="0" y="0">2</text>
<line x1="1263.8" y1="1282.3" x2="1286.5" y2="1282.3" stroke="#3a3a3a" stroke-width="1.9"/>
<text class="rl" transform="translate(1273.3,1279.3) rotate(-90)" x="0" y="0">1</text>
<line x1="1263.8" y1="1324.0" x2="1286.5" y2="1324.0" stroke="#3a3a3a" stroke-width="1.9"/>
<text class="rl" transform="translate(1273.3,1321.0) rotate(-90)" x="0" y="0">0 m</text>
<text x="1679" y="448.6" font-size="67" fill="#58595b" textLength="178" lengthAdjust="spacingAndGlyphs">space</text>
<!-- captions -->
<rect x="235.4" y="1368" width="11.3" height="11" class="c"/>
<text class="t" x="260.2" y="1378.3" textLength="476.6" lengthAdjust="spacingAndGlyphs">Open space saloon cockpit <tspan class="c sl" dy="2.2">/</tspan><tspan dy="-2.2"> </tspan>Salon cockpit ouvert</text>
<rect x="874.9" y="1368" width="11.3" height="11" class="c"/>
<text class="t" x="901.1" y="1378.6" textLength="240" lengthAdjust="spacingAndGlyphs">Deck plan <tspan class="c sl" dy="2.2">/</tspan><tspan dy="-2.2"> </tspan>Plan de pont</text>
<!-- left bullets -->
<rect x="257.8" y="1538.6" width="11.2" height="10.6" class="c"/>
<text class="t" x="282.5" y="1549.6" textLength="499" lengthAdjust="spacingAndGlyphs">Living space (1300 sq ft) <tspan class="c sl" dy="2.2">/</tspan><tspan dy="-2.2"> </tspan>Espace à vivre (120m2)</text>
<rect x="257.8" y="1572.5" width="11.2" height="10.6" class="c"/>
<text class="t" x="282.5" y="1583.5" textLength="703" lengthAdjust="spacingAndGlyphs">Convertible open saloon (700 sq ft) <tspan class="c sl" dy="2.2">/</tspan><tspan dy="-2.2"> </tspan>Salon ouvert et convertible (65m2)</text>
<!-- right bullets -->
<rect x="1680.2" y="1488.2" width="11.2" height="10.6" class="c"/>
<text class="t" x="1705" y="1499.2" textLength="725" lengthAdjust="spacingAndGlyphs">Double helm station for 4 people <tspan class="c sl" dy="2.2">/</tspan><tspan dy="-2.2"> </tspan>Double poste de barre pour 4 personnes</text>
<rect x="1680.2" y="1522" width="11.2" height="10.6" class="c"/>
<text class="t" x="1705" y="1533" textLength="425.4" lengthAdjust="spacingAndGlyphs">Easy access to water <tspan class="c sl" dy="2.2">/</tspan><tspan dy="-2.2"> </tspan>Accès facile à la mer</text>
<rect x="1680.2" y="1555.5" width="11.2" height="10.6" class="c"/>
<text class="t" x="1705" y="1566.5" textLength="499.8" lengthAdjust="spacingAndGlyphs">Retractable lifting tender <tspan class="c sl" dy="2.2">/</tspan><tspan dy="-2.2"> </tspan>Porte-annexe rétractable</text>
<!-- page numbers -->
<text x="700.4" y="1811.6" font-size="15.6" font-weight="bold" fill="#3a3a3c" textLength="23.6" lengthAdjust="spacingAndGlyphs">10</text>
<text x="2120.3" y="1799.2" font-size="16.5" font-weight="bold" fill="#3a3a3c" textLength="21.2" lengthAdjust="spacingAndGlyphs">11</text>

</svg>
</body></html>
